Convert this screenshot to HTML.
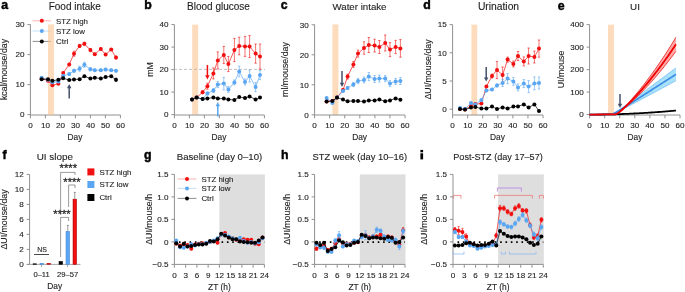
<!DOCTYPE html><html><head><meta charset="utf-8"><style>html,body{margin:0;padding:0;background:#fff;width:685px;height:292px;overflow:hidden}text{font-family:'Liberation Sans', sans-serif}</style></head><body><svg width="685" height="292" viewBox="0 0 685 292" style="display:block;will-change:transform;font-family:'Liberation Sans', sans-serif"><text x="1.2" y="9.4" font-size="12.3" font-weight="bold" fill="#000" stroke="#000" stroke-width="0.45">a</text>
<text x="144.2" y="9.2" font-size="12.3" font-weight="bold" fill="#000" stroke="#000" stroke-width="0.45">b</text>
<text x="280.8" y="9.4" font-size="12.3" font-weight="bold" fill="#000" stroke="#000" stroke-width="0.45">c</text>
<text x="423.2" y="9.2" font-size="12.3" font-weight="bold" fill="#000" stroke="#000" stroke-width="0.45">d</text>
<text x="557.8" y="9.6" font-size="12.3" font-weight="bold" fill="#000" stroke="#000" stroke-width="0.45">e</text>
<text x="2.4" y="159.3" font-size="12.3" font-weight="bold" fill="#000" stroke="#000" stroke-width="0.45">f</text>
<text x="144" y="158.8" font-size="12.3" font-weight="bold" fill="#000" stroke="#000" stroke-width="0.45">g</text>
<text x="281" y="159.3" font-size="12.3" font-weight="bold" fill="#000" stroke="#000" stroke-width="0.45">h</text>
<text x="74.8" y="10.2" font-size="10.0" text-anchor="middle" font-weight="normal" fill="#1e1e1e" stroke="#1e1e1e" stroke-width="0.12">Food intake</text>
<text x="218.5" y="10.2" font-size="10.0" text-anchor="middle" font-weight="normal" fill="#1e1e1e" stroke="#1e1e1e" stroke-width="0.12">Blood glucose</text>
<text x="359.5" y="10.2" font-size="9.7" text-anchor="middle" font-weight="normal" fill="#1e1e1e" stroke="#1e1e1e" stroke-width="0.12">Water intake</text>
<text x="498.5" y="10.2" font-size="10.3" text-anchor="middle" font-weight="normal" fill="#1e1e1e" stroke="#1e1e1e" stroke-width="0.12">Urination</text>
<text x="635" y="10.2" font-size="9.8" text-anchor="middle" font-weight="normal" fill="#1e1e1e" stroke="#1e1e1e" stroke-width="0.12">UI</text>
<text x="54.8" y="160" font-size="9.9" text-anchor="middle" font-weight="normal" fill="#1e1e1e" stroke="#1e1e1e" stroke-width="0.12">UI slope</text>
<text x="219.5" y="160" font-size="9.6" text-anchor="middle" font-weight="normal" fill="#1e1e1e" stroke="#1e1e1e" stroke-width="0.12">Baseline (day 0–10)</text>
<text x="359.8" y="160" font-size="9.35" text-anchor="middle" font-weight="normal" fill="#1e1e1e" stroke="#1e1e1e" stroke-width="0.12">STZ week (day 10–16)</text>
<text x="498" y="160" font-size="9.1" text-anchor="middle" font-weight="normal" fill="#1e1e1e" stroke="#1e1e1e" stroke-width="0.12">Post-STZ (day 17–57)</text>
<rect x="420.4" y="153.3" width="2.7" height="6.1" fill="#000"/>
<rect x="420.4" y="149.9" width="2.7" height="2.4" fill="#000"/>
<line x1="30.4" y1="24.4" x2="30.4" y2="115" stroke="#909090" stroke-width="1.0"/>
<line x1="27.4" y1="114.6" x2="30.4" y2="114.6" stroke="#909090" stroke-width="1.0"/>
<text x="24.5" y="117.4" font-size="8.1" text-anchor="end" font-weight="normal" fill="#1e1e1e" stroke="#1e1e1e" stroke-width="0.12">0</text>
<line x1="27.4" y1="84.6" x2="30.4" y2="84.6" stroke="#909090" stroke-width="1.0"/>
<text x="24.5" y="87.4" font-size="8.1" text-anchor="end" font-weight="normal" fill="#1e1e1e" stroke="#1e1e1e" stroke-width="0.12">10</text>
<line x1="27.4" y1="54.6" x2="30.4" y2="54.6" stroke="#909090" stroke-width="1.0"/>
<text x="24.5" y="57.4" font-size="8.1" text-anchor="end" font-weight="normal" fill="#1e1e1e" stroke="#1e1e1e" stroke-width="0.12">20</text>
<line x1="27.4" y1="24.6" x2="30.4" y2="24.6" stroke="#909090" stroke-width="1.0"/>
<text x="24.5" y="27.4" font-size="8.1" text-anchor="end" font-weight="normal" fill="#1e1e1e" stroke="#1e1e1e" stroke-width="0.12">30</text>
<line x1="30.4" y1="115" x2="120.4" y2="115" stroke="#909090" stroke-width="1.0"/>
<line x1="30.4" y1="115" x2="30.4" y2="118.3" stroke="#909090" stroke-width="1.0"/>
<text x="30.4" y="128" font-size="8.1" text-anchor="middle" font-weight="normal" fill="#1e1e1e" stroke="#1e1e1e" stroke-width="0.12">0</text>
<line x1="45.4" y1="115" x2="45.4" y2="118.3" stroke="#909090" stroke-width="1.0"/>
<text x="45.4" y="128" font-size="8.1" text-anchor="middle" font-weight="normal" fill="#1e1e1e" stroke="#1e1e1e" stroke-width="0.12">10</text>
<line x1="60.4" y1="115" x2="60.4" y2="118.3" stroke="#909090" stroke-width="1.0"/>
<text x="60.4" y="128" font-size="8.1" text-anchor="middle" font-weight="normal" fill="#1e1e1e" stroke="#1e1e1e" stroke-width="0.12">20</text>
<line x1="75.4" y1="115" x2="75.4" y2="118.3" stroke="#909090" stroke-width="1.0"/>
<text x="75.4" y="128" font-size="8.1" text-anchor="middle" font-weight="normal" fill="#1e1e1e" stroke="#1e1e1e" stroke-width="0.12">30</text>
<line x1="90.4" y1="115" x2="90.4" y2="118.3" stroke="#909090" stroke-width="1.0"/>
<text x="90.4" y="128" font-size="8.1" text-anchor="middle" font-weight="normal" fill="#1e1e1e" stroke="#1e1e1e" stroke-width="0.12">40</text>
<line x1="105.4" y1="115" x2="105.4" y2="118.3" stroke="#909090" stroke-width="1.0"/>
<text x="105.4" y="128" font-size="8.1" text-anchor="middle" font-weight="normal" fill="#1e1e1e" stroke="#1e1e1e" stroke-width="0.12">50</text>
<line x1="120.4" y1="115" x2="120.4" y2="118.3" stroke="#909090" stroke-width="1.0"/>
<text x="120.4" y="128" font-size="8.1" text-anchor="middle" font-weight="normal" fill="#1e1e1e" stroke="#1e1e1e" stroke-width="0.12">60</text>
<text x="75" y="140.2" font-size="8.4" text-anchor="middle" font-weight="normal" fill="#1e1e1e" stroke="#1e1e1e" stroke-width="0.12">Day</text>
<text x="7.2" y="69.5" font-size="8.8" text-anchor="middle" font-weight="normal" fill="#1e1e1e" stroke="#1e1e1e" stroke-width="0.12" transform="rotate(-90 7.2 69.5)">kcal/mouse/day</text>
<line x1="32.6" y1="20.8" x2="51" y2="20.8" stroke="#f7a0a0" stroke-width="0.8"/>
<circle cx="41.8" cy="20.8" r="2.0" fill="#f01010"/>
<text x="56" y="23.5" font-size="7.9" text-anchor="start" font-weight="normal" fill="#1e1e1e" stroke="#1e1e1e" stroke-width="0.12">STZ high</text>
<line x1="32.6" y1="31" x2="51" y2="31" stroke="#b5d6f7" stroke-width="0.8"/>
<circle cx="41.8" cy="31" r="2.0" fill="#5aa6f2"/>
<text x="56" y="33.7" font-size="7.9" text-anchor="start" font-weight="normal" fill="#1e1e1e" stroke="#1e1e1e" stroke-width="0.12">STZ low</text>
<line x1="32.6" y1="41.4" x2="51" y2="41.4" stroke="#707070" stroke-width="0.8"/>
<circle cx="41.8" cy="41.4" r="2.0" fill="#000000"/>
<text x="56" y="44.1" font-size="7.9" text-anchor="start" font-weight="normal" fill="#1e1e1e" stroke="#1e1e1e" stroke-width="0.12">Ctrl</text>
<rect x="48" y="24.4" width="6" height="90.6" fill="#fbc591" fill-opacity="0.6"/>
<line x1="63.2" y1="71.9" x2="63.2" y2="73.9" stroke="#f01010" stroke-width="0.6"/>
<line x1="62" y1="71.9" x2="64.4" y2="71.9" stroke="#f01010" stroke-width="0.6"/>
<line x1="62" y1="73.9" x2="64.4" y2="73.9" stroke="#f01010" stroke-width="0.6"/>
<line x1="69.2" y1="63.3" x2="69.2" y2="65.7" stroke="#f01010" stroke-width="0.6"/>
<line x1="68" y1="63.3" x2="70.4" y2="63.3" stroke="#f01010" stroke-width="0.6"/>
<line x1="68" y1="65.7" x2="70.4" y2="65.7" stroke="#f01010" stroke-width="0.6"/>
<line x1="74" y1="51.2" x2="74" y2="56.2" stroke="#f01010" stroke-width="0.6"/>
<line x1="72.8" y1="51.2" x2="75.2" y2="51.2" stroke="#f01010" stroke-width="0.6"/>
<line x1="72.8" y1="56.2" x2="75.2" y2="56.2" stroke="#f01010" stroke-width="0.6"/>
<line x1="79.6" y1="44.4" x2="79.6" y2="47.4" stroke="#f01010" stroke-width="0.6"/>
<line x1="78.4" y1="44.4" x2="80.8" y2="44.4" stroke="#f01010" stroke-width="0.6"/>
<line x1="78.4" y1="47.4" x2="80.8" y2="47.4" stroke="#f01010" stroke-width="0.6"/>
<line x1="84.4" y1="42.3" x2="84.4" y2="45.3" stroke="#f01010" stroke-width="0.6"/>
<line x1="83.2" y1="42.3" x2="85.6" y2="42.3" stroke="#f01010" stroke-width="0.6"/>
<line x1="83.2" y1="45.3" x2="85.6" y2="45.3" stroke="#f01010" stroke-width="0.6"/>
<line x1="90.4" y1="48.6" x2="90.4" y2="51.6" stroke="#f01010" stroke-width="0.6"/>
<line x1="89.2" y1="48.6" x2="91.6" y2="48.6" stroke="#f01010" stroke-width="0.6"/>
<line x1="89.2" y1="51.6" x2="91.6" y2="51.6" stroke="#f01010" stroke-width="0.6"/>
<line x1="94.8" y1="53.1" x2="94.8" y2="55.5" stroke="#f01010" stroke-width="0.6"/>
<line x1="93.6" y1="53.1" x2="96" y2="53.1" stroke="#f01010" stroke-width="0.6"/>
<line x1="93.6" y1="55.5" x2="96" y2="55.5" stroke="#f01010" stroke-width="0.6"/>
<line x1="100.8" y1="47.9" x2="100.8" y2="49.9" stroke="#f01010" stroke-width="0.6"/>
<line x1="99.6" y1="47.9" x2="102" y2="47.9" stroke="#f01010" stroke-width="0.6"/>
<line x1="99.6" y1="49.9" x2="102" y2="49.9" stroke="#f01010" stroke-width="0.6"/>
<line x1="105.6" y1="53.6" x2="105.6" y2="55.6" stroke="#f01010" stroke-width="0.6"/>
<line x1="104.4" y1="53.6" x2="106.8" y2="53.6" stroke="#f01010" stroke-width="0.6"/>
<line x1="104.4" y1="55.6" x2="106.8" y2="55.6" stroke="#f01010" stroke-width="0.6"/>
<line x1="111.2" y1="48.5" x2="111.2" y2="50.5" stroke="#f01010" stroke-width="0.6"/>
<line x1="110" y1="48.5" x2="112.4" y2="48.5" stroke="#f01010" stroke-width="0.6"/>
<line x1="110" y1="50.5" x2="112.4" y2="50.5" stroke="#f01010" stroke-width="0.6"/>
<line x1="116" y1="56.1" x2="116" y2="59.1" stroke="#f01010" stroke-width="0.6"/>
<line x1="114.8" y1="56.1" x2="117.2" y2="56.1" stroke="#f01010" stroke-width="0.6"/>
<line x1="114.8" y1="59.1" x2="117.2" y2="59.1" stroke="#f01010" stroke-width="0.6"/>
<polyline points="41.6,78.6 48,80.7 52.4,85.2 58.4,83.7 63.2,72.9 69.2,64.5 74,53.7 79.6,45.9 84.4,43.8 90.4,50.1 94.8,54.3 100.8,48.9 105.6,54.6 111.2,49.5 116,57.6" fill="none" stroke="#f01010" stroke-width="0.7"/>
<circle cx="41.6" cy="78.6" r="2.0" fill="#f01010"/>
<circle cx="48" cy="80.7" r="2.0" fill="#f01010"/>
<circle cx="52.4" cy="85.2" r="2.0" fill="#f01010"/>
<circle cx="58.4" cy="83.7" r="2.0" fill="#f01010"/>
<circle cx="63.2" cy="72.9" r="2.0" fill="#f01010"/>
<circle cx="69.2" cy="64.5" r="2.0" fill="#f01010"/>
<circle cx="74" cy="53.7" r="2.0" fill="#f01010"/>
<circle cx="79.6" cy="45.9" r="2.0" fill="#f01010"/>
<circle cx="84.4" cy="43.8" r="2.0" fill="#f01010"/>
<circle cx="90.4" cy="50.1" r="2.0" fill="#f01010"/>
<circle cx="94.8" cy="54.3" r="2.0" fill="#f01010"/>
<circle cx="100.8" cy="48.9" r="2.0" fill="#f01010"/>
<circle cx="105.6" cy="54.6" r="2.0" fill="#f01010"/>
<circle cx="111.2" cy="49.5" r="2.0" fill="#f01010"/>
<circle cx="116" cy="57.6" r="2.0" fill="#f01010"/>
<line x1="63.2" y1="74.9" x2="63.2" y2="76.9" stroke="#5aa6f2" stroke-width="0.6"/>
<line x1="62" y1="74.9" x2="64.4" y2="74.9" stroke="#5aa6f2" stroke-width="0.6"/>
<line x1="62" y1="76.9" x2="64.4" y2="76.9" stroke="#5aa6f2" stroke-width="0.6"/>
<line x1="69.2" y1="73.1" x2="69.2" y2="75.1" stroke="#5aa6f2" stroke-width="0.6"/>
<line x1="68" y1="73.1" x2="70.4" y2="73.1" stroke="#5aa6f2" stroke-width="0.6"/>
<line x1="68" y1="75.1" x2="70.4" y2="75.1" stroke="#5aa6f2" stroke-width="0.6"/>
<line x1="74" y1="69.3" x2="74" y2="72.3" stroke="#5aa6f2" stroke-width="0.6"/>
<line x1="72.8" y1="69.3" x2="75.2" y2="69.3" stroke="#5aa6f2" stroke-width="0.6"/>
<line x1="72.8" y1="72.3" x2="75.2" y2="72.3" stroke="#5aa6f2" stroke-width="0.6"/>
<line x1="79.6" y1="66.2" x2="79.6" y2="71.2" stroke="#5aa6f2" stroke-width="0.6"/>
<line x1="78.4" y1="66.2" x2="80.8" y2="66.2" stroke="#5aa6f2" stroke-width="0.6"/>
<line x1="78.4" y1="71.2" x2="80.8" y2="71.2" stroke="#5aa6f2" stroke-width="0.6"/>
<line x1="84.4" y1="62.3" x2="84.4" y2="67.3" stroke="#5aa6f2" stroke-width="0.6"/>
<line x1="83.2" y1="62.3" x2="85.6" y2="62.3" stroke="#5aa6f2" stroke-width="0.6"/>
<line x1="83.2" y1="67.3" x2="85.6" y2="67.3" stroke="#5aa6f2" stroke-width="0.6"/>
<line x1="90.4" y1="67.8" x2="90.4" y2="70.8" stroke="#5aa6f2" stroke-width="0.6"/>
<line x1="89.2" y1="67.8" x2="91.6" y2="67.8" stroke="#5aa6f2" stroke-width="0.6"/>
<line x1="89.2" y1="70.8" x2="91.6" y2="70.8" stroke="#5aa6f2" stroke-width="0.6"/>
<line x1="94.8" y1="69" x2="94.8" y2="71.4" stroke="#5aa6f2" stroke-width="0.6"/>
<line x1="93.6" y1="69" x2="96" y2="69" stroke="#5aa6f2" stroke-width="0.6"/>
<line x1="93.6" y1="71.4" x2="96" y2="71.4" stroke="#5aa6f2" stroke-width="0.6"/>
<line x1="100.8" y1="69" x2="100.8" y2="71.4" stroke="#5aa6f2" stroke-width="0.6"/>
<line x1="99.6" y1="69" x2="102" y2="69" stroke="#5aa6f2" stroke-width="0.6"/>
<line x1="99.6" y1="71.4" x2="102" y2="71.4" stroke="#5aa6f2" stroke-width="0.6"/>
<line x1="105.6" y1="68.4" x2="105.6" y2="70.8" stroke="#5aa6f2" stroke-width="0.6"/>
<line x1="104.4" y1="68.4" x2="106.8" y2="68.4" stroke="#5aa6f2" stroke-width="0.6"/>
<line x1="104.4" y1="70.8" x2="106.8" y2="70.8" stroke="#5aa6f2" stroke-width="0.6"/>
<line x1="111.2" y1="69" x2="111.2" y2="71.4" stroke="#5aa6f2" stroke-width="0.6"/>
<line x1="110" y1="69" x2="112.4" y2="69" stroke="#5aa6f2" stroke-width="0.6"/>
<line x1="110" y1="71.4" x2="112.4" y2="71.4" stroke="#5aa6f2" stroke-width="0.6"/>
<line x1="116" y1="69.6" x2="116" y2="72" stroke="#5aa6f2" stroke-width="0.6"/>
<line x1="114.8" y1="69.6" x2="117.2" y2="69.6" stroke="#5aa6f2" stroke-width="0.6"/>
<line x1="114.8" y1="72" x2="117.2" y2="72" stroke="#5aa6f2" stroke-width="0.6"/>
<polyline points="41.6,77.7 48,79.8 52.4,82.2 58.4,81.6 63.2,75.9 69.2,74.1 74,70.8 79.6,68.7 84.4,64.8 90.4,69.3 94.8,70.2 100.8,70.2 105.6,69.6 111.2,70.2 116,70.8" fill="none" stroke="#5aa6f2" stroke-width="0.7"/>
<circle cx="41.6" cy="77.7" r="2.0" fill="#5aa6f2"/>
<circle cx="48" cy="79.8" r="2.0" fill="#5aa6f2"/>
<circle cx="52.4" cy="82.2" r="2.0" fill="#5aa6f2"/>
<circle cx="58.4" cy="81.6" r="2.0" fill="#5aa6f2"/>
<circle cx="63.2" cy="75.9" r="2.0" fill="#5aa6f2"/>
<circle cx="69.2" cy="74.1" r="2.0" fill="#5aa6f2"/>
<circle cx="74" cy="70.8" r="2.0" fill="#5aa6f2"/>
<circle cx="79.6" cy="68.7" r="2.0" fill="#5aa6f2"/>
<circle cx="84.4" cy="64.8" r="2.0" fill="#5aa6f2"/>
<circle cx="90.4" cy="69.3" r="2.0" fill="#5aa6f2"/>
<circle cx="94.8" cy="70.2" r="2.0" fill="#5aa6f2"/>
<circle cx="100.8" cy="70.2" r="2.0" fill="#5aa6f2"/>
<circle cx="105.6" cy="69.6" r="2.0" fill="#5aa6f2"/>
<circle cx="111.2" cy="70.2" r="2.0" fill="#5aa6f2"/>
<circle cx="116" cy="70.8" r="2.0" fill="#5aa6f2"/>
<line x1="116" y1="78" x2="116" y2="81.6" stroke="#555" stroke-width="0.6"/>
<line x1="114.8" y1="78" x2="117.2" y2="78" stroke="#555" stroke-width="0.6"/>
<line x1="114.8" y1="81.6" x2="117.2" y2="81.6" stroke="#555" stroke-width="0.6"/>
<polyline points="41.6,79.2 48,79.2 52.4,80.7 58.4,79.8 63.2,78.3 69.2,80.1 74,79.5 79.6,79.2 84.4,76.2 90.4,78.6 94.8,77.7 100.8,78.6 105.6,77.1 111.2,76.2 116,79.8" fill="none" stroke="#000000" stroke-width="0.7"/>
<circle cx="41.6" cy="79.2" r="2.0" fill="#000000"/>
<circle cx="48" cy="79.2" r="2.0" fill="#000000"/>
<circle cx="52.4" cy="80.7" r="2.0" fill="#000000"/>
<circle cx="58.4" cy="79.8" r="2.0" fill="#000000"/>
<circle cx="63.2" cy="78.3" r="2.0" fill="#000000"/>
<circle cx="69.2" cy="80.1" r="2.0" fill="#000000"/>
<circle cx="74" cy="79.5" r="2.0" fill="#000000"/>
<circle cx="79.6" cy="79.2" r="2.0" fill="#000000"/>
<circle cx="84.4" cy="76.2" r="2.0" fill="#000000"/>
<circle cx="90.4" cy="78.6" r="2.0" fill="#000000"/>
<circle cx="94.8" cy="77.7" r="2.0" fill="#000000"/>
<circle cx="100.8" cy="78.6" r="2.0" fill="#000000"/>
<circle cx="105.6" cy="77.1" r="2.0" fill="#000000"/>
<circle cx="111.2" cy="76.2" r="2.0" fill="#000000"/>
<circle cx="116" cy="79.8" r="2.0" fill="#000000"/>
<line x1="69.2" y1="98.5" x2="69.2" y2="87.36" stroke="#44506a" stroke-width="1.5"/>
<path d="M67,88.2 L69.2,84 L71.4,88.2 Z" fill="#44506a" stroke="none" stroke-width="0.7"/>
<line x1="174.4" y1="24.6" x2="174.4" y2="115" stroke="#909090" stroke-width="1.0"/>
<line x1="171.4" y1="114.6" x2="174.4" y2="114.6" stroke="#909090" stroke-width="1.0"/>
<text x="168.5" y="117.4" font-size="8.1" text-anchor="end" font-weight="normal" fill="#1e1e1e" stroke="#1e1e1e" stroke-width="0.12">0</text>
<line x1="171.4" y1="92.1" x2="174.4" y2="92.1" stroke="#909090" stroke-width="1.0"/>
<text x="168.5" y="94.9" font-size="8.1" text-anchor="end" font-weight="normal" fill="#1e1e1e" stroke="#1e1e1e" stroke-width="0.12">10</text>
<line x1="171.4" y1="69.6" x2="174.4" y2="69.6" stroke="#909090" stroke-width="1.0"/>
<text x="168.5" y="72.4" font-size="8.1" text-anchor="end" font-weight="normal" fill="#1e1e1e" stroke="#1e1e1e" stroke-width="0.12">20</text>
<line x1="171.4" y1="47.1" x2="174.4" y2="47.1" stroke="#909090" stroke-width="1.0"/>
<text x="168.5" y="49.9" font-size="8.1" text-anchor="end" font-weight="normal" fill="#1e1e1e" stroke="#1e1e1e" stroke-width="0.12">30</text>
<line x1="171.4" y1="24.6" x2="174.4" y2="24.6" stroke="#909090" stroke-width="1.0"/>
<text x="168.5" y="27.4" font-size="8.1" text-anchor="end" font-weight="normal" fill="#1e1e1e" stroke="#1e1e1e" stroke-width="0.12">40</text>
<rect x="192.2" y="24.6" width="6" height="90" fill="#fcdcbd"/>
<line x1="174.4" y1="115" x2="264.2" y2="115" stroke="#909090" stroke-width="1.0"/>
<line x1="174.4" y1="115" x2="174.4" y2="118.3" stroke="#909090" stroke-width="1.0"/>
<text x="174.4" y="128" font-size="8.1" text-anchor="middle" font-weight="normal" fill="#1e1e1e" stroke="#1e1e1e" stroke-width="0.12">0</text>
<line x1="189.4" y1="115" x2="189.4" y2="118.3" stroke="#909090" stroke-width="1.0"/>
<text x="189.4" y="128" font-size="8.1" text-anchor="middle" font-weight="normal" fill="#1e1e1e" stroke="#1e1e1e" stroke-width="0.12">10</text>
<line x1="204.4" y1="115" x2="204.4" y2="118.3" stroke="#909090" stroke-width="1.0"/>
<text x="204.4" y="128" font-size="8.1" text-anchor="middle" font-weight="normal" fill="#1e1e1e" stroke="#1e1e1e" stroke-width="0.12">20</text>
<line x1="219.4" y1="115" x2="219.4" y2="118.3" stroke="#909090" stroke-width="1.0"/>
<text x="219.4" y="128" font-size="8.1" text-anchor="middle" font-weight="normal" fill="#1e1e1e" stroke="#1e1e1e" stroke-width="0.12">30</text>
<line x1="234.4" y1="115" x2="234.4" y2="118.3" stroke="#909090" stroke-width="1.0"/>
<text x="234.4" y="128" font-size="8.1" text-anchor="middle" font-weight="normal" fill="#1e1e1e" stroke="#1e1e1e" stroke-width="0.12">40</text>
<line x1="249.4" y1="115" x2="249.4" y2="118.3" stroke="#909090" stroke-width="1.0"/>
<text x="249.4" y="128" font-size="8.1" text-anchor="middle" font-weight="normal" fill="#1e1e1e" stroke="#1e1e1e" stroke-width="0.12">50</text>
<line x1="264.4" y1="115" x2="264.4" y2="118.3" stroke="#909090" stroke-width="1.0"/>
<text x="264.4" y="128" font-size="8.1" text-anchor="middle" font-weight="normal" fill="#1e1e1e" stroke="#1e1e1e" stroke-width="0.12">60</text>
<text x="219" y="140.2" font-size="8.4" text-anchor="middle" font-weight="normal" fill="#1e1e1e" stroke="#1e1e1e" stroke-width="0.12">Day</text>
<text x="152.5" y="69.5" font-size="8.8" text-anchor="middle" font-weight="normal" fill="#1e1e1e" stroke="#1e1e1e" stroke-width="0.12" transform="rotate(-90 152.5 69.5)">mM</text>
<line x1="174" y1="69.4" x2="265" y2="69.4" stroke="#b0b0b0" stroke-width="0.8" stroke-dasharray="3 2"/>
<line x1="202.6" y1="90.7" x2="202.6" y2="93.7" stroke="#f01010" stroke-width="0.6"/>
<line x1="201.4" y1="90.7" x2="203.8" y2="90.7" stroke="#f01010" stroke-width="0.6"/>
<line x1="201.4" y1="93.7" x2="203.8" y2="93.7" stroke="#f01010" stroke-width="0.6"/>
<line x1="207.4" y1="83.2" x2="207.4" y2="89.2" stroke="#f01010" stroke-width="0.6"/>
<line x1="206.2" y1="83.2" x2="208.6" y2="83.2" stroke="#f01010" stroke-width="0.6"/>
<line x1="206.2" y1="89.2" x2="208.6" y2="89.2" stroke="#f01010" stroke-width="0.6"/>
<line x1="213.4" y1="67.9" x2="213.4" y2="78.9" stroke="#f01010" stroke-width="0.6"/>
<line x1="212.2" y1="67.9" x2="214.6" y2="67.9" stroke="#f01010" stroke-width="0.6"/>
<line x1="212.2" y1="78.9" x2="214.6" y2="78.9" stroke="#f01010" stroke-width="0.6"/>
<line x1="217.8" y1="51.9" x2="217.8" y2="68.9" stroke="#f01010" stroke-width="0.6"/>
<line x1="216.6" y1="51.9" x2="219" y2="51.9" stroke="#f01010" stroke-width="0.6"/>
<line x1="216.6" y1="68.9" x2="219" y2="68.9" stroke="#f01010" stroke-width="0.6"/>
<line x1="223.8" y1="46.4" x2="223.8" y2="63.6" stroke="#f01010" stroke-width="0.6"/>
<line x1="222.6" y1="46.4" x2="225" y2="46.4" stroke="#f01010" stroke-width="0.6"/>
<line x1="222.6" y1="63.6" x2="225" y2="63.6" stroke="#f01010" stroke-width="0.6"/>
<line x1="228.4" y1="56.4" x2="228.4" y2="71.6" stroke="#f01010" stroke-width="0.6"/>
<line x1="227.2" y1="56.4" x2="229.6" y2="56.4" stroke="#f01010" stroke-width="0.6"/>
<line x1="227.2" y1="71.6" x2="229.6" y2="71.6" stroke="#f01010" stroke-width="0.6"/>
<line x1="234.4" y1="38.4" x2="234.4" y2="61.6" stroke="#f01010" stroke-width="0.6"/>
<line x1="233.2" y1="38.4" x2="235.6" y2="38.4" stroke="#f01010" stroke-width="0.6"/>
<line x1="233.2" y1="61.6" x2="235.6" y2="61.6" stroke="#f01010" stroke-width="0.6"/>
<line x1="239.2" y1="37.2" x2="239.2" y2="54.8" stroke="#f01010" stroke-width="0.6"/>
<line x1="238" y1="37.2" x2="240.4" y2="37.2" stroke="#f01010" stroke-width="0.6"/>
<line x1="238" y1="54.8" x2="240.4" y2="54.8" stroke="#f01010" stroke-width="0.6"/>
<line x1="245" y1="36.4" x2="245" y2="56.4" stroke="#f01010" stroke-width="0.6"/>
<line x1="243.8" y1="36.4" x2="246.2" y2="36.4" stroke="#f01010" stroke-width="0.6"/>
<line x1="243.8" y1="56.4" x2="246.2" y2="56.4" stroke="#f01010" stroke-width="0.6"/>
<line x1="249.6" y1="35.6" x2="249.6" y2="57.6" stroke="#f01010" stroke-width="0.6"/>
<line x1="248.4" y1="35.6" x2="250.8" y2="35.6" stroke="#f01010" stroke-width="0.6"/>
<line x1="248.4" y1="57.6" x2="250.8" y2="57.6" stroke="#f01010" stroke-width="0.6"/>
<line x1="255.6" y1="44" x2="255.6" y2="63.2" stroke="#f01010" stroke-width="0.6"/>
<line x1="254.4" y1="44" x2="256.8" y2="44" stroke="#f01010" stroke-width="0.6"/>
<line x1="254.4" y1="63.2" x2="256.8" y2="63.2" stroke="#f01010" stroke-width="0.6"/>
<line x1="260" y1="44" x2="260" y2="69.2" stroke="#f01010" stroke-width="0.6"/>
<line x1="258.8" y1="44" x2="261.2" y2="44" stroke="#f01010" stroke-width="0.6"/>
<line x1="258.8" y1="69.2" x2="261.2" y2="69.2" stroke="#f01010" stroke-width="0.6"/>
<polyline points="192,99.6 196.6,97.6 202.6,92.2 207.4,86.2 213.4,73.4 217.8,60.4 223.8,55 228.4,64 234.4,50 239.2,46 245,46.4 249.6,46.6 255.6,53.6 260,56.6" fill="none" stroke="#f01010" stroke-width="0.7"/>
<circle cx="192" cy="99.6" r="2.0" fill="#f01010"/>
<circle cx="196.6" cy="97.6" r="2.0" fill="#f01010"/>
<circle cx="202.6" cy="92.2" r="2.0" fill="#f01010"/>
<circle cx="207.4" cy="86.2" r="2.0" fill="#f01010"/>
<circle cx="213.4" cy="73.4" r="2.0" fill="#f01010"/>
<circle cx="217.8" cy="60.4" r="2.0" fill="#f01010"/>
<circle cx="223.8" cy="55" r="2.0" fill="#f01010"/>
<circle cx="228.4" cy="64" r="2.0" fill="#f01010"/>
<circle cx="234.4" cy="50" r="2.0" fill="#f01010"/>
<circle cx="239.2" cy="46" r="2.0" fill="#f01010"/>
<circle cx="245" cy="46.4" r="2.0" fill="#f01010"/>
<circle cx="249.6" cy="46.6" r="2.0" fill="#f01010"/>
<circle cx="255.6" cy="53.6" r="2.0" fill="#f01010"/>
<circle cx="260" cy="56.6" r="2.0" fill="#f01010"/>
<line x1="207.4" y1="91.9" x2="207.4" y2="94.9" stroke="#5aa6f2" stroke-width="0.6"/>
<line x1="206.2" y1="91.9" x2="208.6" y2="91.9" stroke="#5aa6f2" stroke-width="0.6"/>
<line x1="206.2" y1="94.9" x2="208.6" y2="94.9" stroke="#5aa6f2" stroke-width="0.6"/>
<line x1="213.4" y1="88.6" x2="213.4" y2="92.6" stroke="#5aa6f2" stroke-width="0.6"/>
<line x1="212.2" y1="88.6" x2="214.6" y2="88.6" stroke="#5aa6f2" stroke-width="0.6"/>
<line x1="212.2" y1="92.6" x2="214.6" y2="92.6" stroke="#5aa6f2" stroke-width="0.6"/>
<line x1="217.8" y1="81.6" x2="217.8" y2="87.6" stroke="#5aa6f2" stroke-width="0.6"/>
<line x1="216.6" y1="81.6" x2="219" y2="81.6" stroke="#5aa6f2" stroke-width="0.6"/>
<line x1="216.6" y1="87.6" x2="219" y2="87.6" stroke="#5aa6f2" stroke-width="0.6"/>
<line x1="223.8" y1="77.4" x2="223.8" y2="89.8" stroke="#5aa6f2" stroke-width="0.6"/>
<line x1="222.6" y1="77.4" x2="225" y2="77.4" stroke="#5aa6f2" stroke-width="0.6"/>
<line x1="222.6" y1="89.8" x2="225" y2="89.8" stroke="#5aa6f2" stroke-width="0.6"/>
<line x1="228.4" y1="86.6" x2="228.4" y2="92.2" stroke="#5aa6f2" stroke-width="0.6"/>
<line x1="227.2" y1="86.6" x2="229.6" y2="86.6" stroke="#5aa6f2" stroke-width="0.6"/>
<line x1="227.2" y1="92.2" x2="229.6" y2="92.2" stroke="#5aa6f2" stroke-width="0.6"/>
<line x1="234.4" y1="80" x2="234.4" y2="84.8" stroke="#5aa6f2" stroke-width="0.6"/>
<line x1="233.2" y1="80" x2="235.6" y2="80" stroke="#5aa6f2" stroke-width="0.6"/>
<line x1="233.2" y1="84.8" x2="235.6" y2="84.8" stroke="#5aa6f2" stroke-width="0.6"/>
<line x1="239.2" y1="66" x2="239.2" y2="76.8" stroke="#5aa6f2" stroke-width="0.6"/>
<line x1="238" y1="66" x2="240.4" y2="66" stroke="#5aa6f2" stroke-width="0.6"/>
<line x1="238" y1="76.8" x2="240.4" y2="76.8" stroke="#5aa6f2" stroke-width="0.6"/>
<line x1="245" y1="79" x2="245" y2="85" stroke="#5aa6f2" stroke-width="0.6"/>
<line x1="243.8" y1="79" x2="246.2" y2="79" stroke="#5aa6f2" stroke-width="0.6"/>
<line x1="243.8" y1="85" x2="246.2" y2="85" stroke="#5aa6f2" stroke-width="0.6"/>
<line x1="249.6" y1="70" x2="249.6" y2="82" stroke="#5aa6f2" stroke-width="0.6"/>
<line x1="248.4" y1="70" x2="250.8" y2="70" stroke="#5aa6f2" stroke-width="0.6"/>
<line x1="248.4" y1="82" x2="250.8" y2="82" stroke="#5aa6f2" stroke-width="0.6"/>
<line x1="255.6" y1="82.4" x2="255.6" y2="91.6" stroke="#5aa6f2" stroke-width="0.6"/>
<line x1="254.4" y1="82.4" x2="256.8" y2="82.4" stroke="#5aa6f2" stroke-width="0.6"/>
<line x1="254.4" y1="91.6" x2="256.8" y2="91.6" stroke="#5aa6f2" stroke-width="0.6"/>
<line x1="260" y1="70.6" x2="260" y2="79.4" stroke="#5aa6f2" stroke-width="0.6"/>
<line x1="258.8" y1="70.6" x2="261.2" y2="70.6" stroke="#5aa6f2" stroke-width="0.6"/>
<line x1="258.8" y1="79.4" x2="261.2" y2="79.4" stroke="#5aa6f2" stroke-width="0.6"/>
<polyline points="192,99.6 196.6,97.6 202.6,99 207.4,93.4 213.4,90.6 217.8,84.6 223.8,83.6 228.4,89.4 234.4,82.4 239.2,71.4 245,82 249.6,76 255.6,87 260,75" fill="none" stroke="#5aa6f2" stroke-width="0.7"/>
<circle cx="192" cy="99.6" r="2.0" fill="#5aa6f2"/>
<circle cx="196.6" cy="97.6" r="2.0" fill="#5aa6f2"/>
<circle cx="202.6" cy="99" r="2.0" fill="#5aa6f2"/>
<circle cx="207.4" cy="93.4" r="2.0" fill="#5aa6f2"/>
<circle cx="213.4" cy="90.6" r="2.0" fill="#5aa6f2"/>
<circle cx="217.8" cy="84.6" r="2.0" fill="#5aa6f2"/>
<circle cx="223.8" cy="83.6" r="2.0" fill="#5aa6f2"/>
<circle cx="228.4" cy="89.4" r="2.0" fill="#5aa6f2"/>
<circle cx="234.4" cy="82.4" r="2.0" fill="#5aa6f2"/>
<circle cx="239.2" cy="71.4" r="2.0" fill="#5aa6f2"/>
<circle cx="245" cy="82" r="2.0" fill="#5aa6f2"/>
<circle cx="249.6" cy="76" r="2.0" fill="#5aa6f2"/>
<circle cx="255.6" cy="87" r="2.0" fill="#5aa6f2"/>
<circle cx="260" cy="75" r="2.0" fill="#5aa6f2"/>
<polyline points="192,99.6 196.6,97.6 202.6,99 207.4,98.6 213.4,97.4 217.8,98.6 223.8,98.6 228.4,99.4 234.4,100 239.2,97 245,98 249.6,96.6 255.6,99.4 260,97.6" fill="none" stroke="#000000" stroke-width="0.7"/>
<circle cx="192" cy="99.6" r="2.0" fill="#000000"/>
<circle cx="196.6" cy="97.6" r="2.0" fill="#000000"/>
<circle cx="202.6" cy="99" r="2.0" fill="#000000"/>
<circle cx="207.4" cy="98.6" r="2.0" fill="#000000"/>
<circle cx="213.4" cy="97.4" r="2.0" fill="#000000"/>
<circle cx="217.8" cy="98.6" r="2.0" fill="#000000"/>
<circle cx="223.8" cy="98.6" r="2.0" fill="#000000"/>
<circle cx="228.4" cy="99.4" r="2.0" fill="#000000"/>
<circle cx="234.4" cy="100" r="2.0" fill="#000000"/>
<circle cx="239.2" cy="97" r="2.0" fill="#000000"/>
<circle cx="245" cy="98" r="2.0" fill="#000000"/>
<circle cx="249.6" cy="96.6" r="2.0" fill="#000000"/>
<circle cx="255.6" cy="99.4" r="2.0" fill="#000000"/>
<circle cx="260" cy="97.6" r="2.0" fill="#000000"/>
<line x1="207.4" y1="65" x2="207.4" y2="76.14" stroke="#f01010" stroke-width="1.5"/>
<path d="M205.2,75.3 L207.4,79.5 L209.6,75.3 Z" fill="#f01010" stroke="none" stroke-width="0.7"/>
<line x1="217.8" y1="116.5" x2="217.8" y2="105.36" stroke="#5aa6f2" stroke-width="1.5"/>
<path d="M215.6,106.2 L217.8,102 L220,106.2 Z" fill="#5aa6f2" stroke="none" stroke-width="0.7"/>
<line x1="314.6" y1="24.4" x2="314.6" y2="115" stroke="#909090" stroke-width="1.0"/>
<line x1="311.6" y1="114.8" x2="314.6" y2="114.8" stroke="#909090" stroke-width="1.0"/>
<text x="308.7" y="117.6" font-size="8.1" text-anchor="end" font-weight="normal" fill="#1e1e1e" stroke="#1e1e1e" stroke-width="0.12">0</text>
<line x1="311.6" y1="84.8" x2="314.6" y2="84.8" stroke="#909090" stroke-width="1.0"/>
<text x="308.7" y="87.6" font-size="8.1" text-anchor="end" font-weight="normal" fill="#1e1e1e" stroke="#1e1e1e" stroke-width="0.12">10</text>
<line x1="311.6" y1="54.8" x2="314.6" y2="54.8" stroke="#909090" stroke-width="1.0"/>
<text x="308.7" y="57.6" font-size="8.1" text-anchor="end" font-weight="normal" fill="#1e1e1e" stroke="#1e1e1e" stroke-width="0.12">20</text>
<line x1="311.6" y1="24.8" x2="314.6" y2="24.8" stroke="#909090" stroke-width="1.0"/>
<text x="308.7" y="27.6" font-size="8.1" text-anchor="end" font-weight="normal" fill="#1e1e1e" stroke="#1e1e1e" stroke-width="0.12">30</text>
<rect x="332.4" y="24.4" width="6" height="90.4" fill="#fcdcbd"/>
<line x1="314.6" y1="115" x2="405" y2="115" stroke="#909090" stroke-width="1.0"/>
<line x1="314.6" y1="115" x2="314.6" y2="118.3" stroke="#909090" stroke-width="1.0"/>
<text x="314.6" y="128" font-size="8.1" text-anchor="middle" font-weight="normal" fill="#1e1e1e" stroke="#1e1e1e" stroke-width="0.12">0</text>
<line x1="329.67" y1="115" x2="329.67" y2="118.3" stroke="#909090" stroke-width="1.0"/>
<text x="329.67" y="128" font-size="8.1" text-anchor="middle" font-weight="normal" fill="#1e1e1e" stroke="#1e1e1e" stroke-width="0.12">10</text>
<line x1="344.74" y1="115" x2="344.74" y2="118.3" stroke="#909090" stroke-width="1.0"/>
<text x="344.74" y="128" font-size="8.1" text-anchor="middle" font-weight="normal" fill="#1e1e1e" stroke="#1e1e1e" stroke-width="0.12">20</text>
<line x1="359.81" y1="115" x2="359.81" y2="118.3" stroke="#909090" stroke-width="1.0"/>
<text x="359.81" y="128" font-size="8.1" text-anchor="middle" font-weight="normal" fill="#1e1e1e" stroke="#1e1e1e" stroke-width="0.12">30</text>
<line x1="374.88" y1="115" x2="374.88" y2="118.3" stroke="#909090" stroke-width="1.0"/>
<text x="374.88" y="128" font-size="8.1" text-anchor="middle" font-weight="normal" fill="#1e1e1e" stroke="#1e1e1e" stroke-width="0.12">40</text>
<line x1="389.95" y1="115" x2="389.95" y2="118.3" stroke="#909090" stroke-width="1.0"/>
<text x="389.95" y="128" font-size="8.1" text-anchor="middle" font-weight="normal" fill="#1e1e1e" stroke="#1e1e1e" stroke-width="0.12">50</text>
<line x1="405.02" y1="115" x2="405.02" y2="118.3" stroke="#909090" stroke-width="1.0"/>
<text x="405.02" y="128" font-size="8.1" text-anchor="middle" font-weight="normal" fill="#1e1e1e" stroke="#1e1e1e" stroke-width="0.12">60</text>
<text x="359.6" y="140.2" font-size="8.4" text-anchor="middle" font-weight="normal" fill="#1e1e1e" stroke="#1e1e1e" stroke-width="0.12">Day</text>
<text x="287.5" y="69.5" font-size="8.8" text-anchor="middle" font-weight="normal" fill="#1e1e1e" stroke="#1e1e1e" stroke-width="0.12" transform="rotate(-90 287.5 69.5)">ml/mouse/day</text>
<line x1="343" y1="88.5" x2="343" y2="91.5" stroke="#f01010" stroke-width="0.6"/>
<line x1="341.8" y1="88.5" x2="344.2" y2="88.5" stroke="#f01010" stroke-width="0.6"/>
<line x1="341.8" y1="91.5" x2="344.2" y2="91.5" stroke="#f01010" stroke-width="0.6"/>
<line x1="347.6" y1="74.1" x2="347.6" y2="79.1" stroke="#f01010" stroke-width="0.6"/>
<line x1="346.4" y1="74.1" x2="348.8" y2="74.1" stroke="#f01010" stroke-width="0.6"/>
<line x1="346.4" y1="79.1" x2="348.8" y2="79.1" stroke="#f01010" stroke-width="0.6"/>
<line x1="353.4" y1="61.4" x2="353.4" y2="67.4" stroke="#f01010" stroke-width="0.6"/>
<line x1="352.2" y1="61.4" x2="354.6" y2="61.4" stroke="#f01010" stroke-width="0.6"/>
<line x1="352.2" y1="67.4" x2="354.6" y2="67.4" stroke="#f01010" stroke-width="0.6"/>
<line x1="358" y1="50.1" x2="358" y2="57.1" stroke="#f01010" stroke-width="0.6"/>
<line x1="356.8" y1="50.1" x2="359.2" y2="50.1" stroke="#f01010" stroke-width="0.6"/>
<line x1="356.8" y1="57.1" x2="359.2" y2="57.1" stroke="#f01010" stroke-width="0.6"/>
<line x1="364" y1="41.8" x2="364" y2="54.2" stroke="#f01010" stroke-width="0.6"/>
<line x1="362.8" y1="41.8" x2="365.2" y2="41.8" stroke="#f01010" stroke-width="0.6"/>
<line x1="362.8" y1="54.2" x2="365.2" y2="54.2" stroke="#f01010" stroke-width="0.6"/>
<line x1="368.8" y1="37.5" x2="368.8" y2="52.5" stroke="#f01010" stroke-width="0.6"/>
<line x1="367.6" y1="37.5" x2="370" y2="37.5" stroke="#f01010" stroke-width="0.6"/>
<line x1="367.6" y1="52.5" x2="370" y2="52.5" stroke="#f01010" stroke-width="0.6"/>
<line x1="374.6" y1="39.2" x2="374.6" y2="52" stroke="#f01010" stroke-width="0.6"/>
<line x1="373.4" y1="39.2" x2="375.8" y2="39.2" stroke="#f01010" stroke-width="0.6"/>
<line x1="373.4" y1="52" x2="375.8" y2="52" stroke="#f01010" stroke-width="0.6"/>
<line x1="379.4" y1="40.5" x2="379.4" y2="53.5" stroke="#f01010" stroke-width="0.6"/>
<line x1="378.2" y1="40.5" x2="380.6" y2="40.5" stroke="#f01010" stroke-width="0.6"/>
<line x1="378.2" y1="53.5" x2="380.6" y2="53.5" stroke="#f01010" stroke-width="0.6"/>
<line x1="385.2" y1="35" x2="385.2" y2="51" stroke="#f01010" stroke-width="0.6"/>
<line x1="384" y1="35" x2="386.4" y2="35" stroke="#f01010" stroke-width="0.6"/>
<line x1="384" y1="51" x2="386.4" y2="51" stroke="#f01010" stroke-width="0.6"/>
<line x1="390" y1="42.6" x2="390" y2="56.6" stroke="#f01010" stroke-width="0.6"/>
<line x1="388.8" y1="42.6" x2="391.2" y2="42.6" stroke="#f01010" stroke-width="0.6"/>
<line x1="388.8" y1="56.6" x2="391.2" y2="56.6" stroke="#f01010" stroke-width="0.6"/>
<line x1="395.6" y1="40.4" x2="395.6" y2="53.6" stroke="#f01010" stroke-width="0.6"/>
<line x1="394.4" y1="40.4" x2="396.8" y2="40.4" stroke="#f01010" stroke-width="0.6"/>
<line x1="394.4" y1="53.6" x2="396.8" y2="53.6" stroke="#f01010" stroke-width="0.6"/>
<line x1="400.4" y1="39.6" x2="400.4" y2="57.2" stroke="#f01010" stroke-width="0.6"/>
<line x1="399.2" y1="39.6" x2="401.6" y2="39.6" stroke="#f01010" stroke-width="0.6"/>
<line x1="399.2" y1="57.2" x2="401.6" y2="57.2" stroke="#f01010" stroke-width="0.6"/>
<polyline points="326.6,101.6 332.4,101 337,97.6 343,90 347.6,76.6 353.4,64.4 358,53.6 364,48 368.8,45 374.6,45.6 379.4,47 385.2,43 390,49.6 395.6,47 400.4,48.4" fill="none" stroke="#f01010" stroke-width="0.7"/>
<circle cx="326.6" cy="101.6" r="2.0" fill="#f01010"/>
<circle cx="332.4" cy="101" r="2.0" fill="#f01010"/>
<circle cx="337" cy="97.6" r="2.0" fill="#f01010"/>
<circle cx="343" cy="90" r="2.0" fill="#f01010"/>
<circle cx="347.6" cy="76.6" r="2.0" fill="#f01010"/>
<circle cx="353.4" cy="64.4" r="2.0" fill="#f01010"/>
<circle cx="358" cy="53.6" r="2.0" fill="#f01010"/>
<circle cx="364" cy="48" r="2.0" fill="#f01010"/>
<circle cx="368.8" cy="45" r="2.0" fill="#f01010"/>
<circle cx="374.6" cy="45.6" r="2.0" fill="#f01010"/>
<circle cx="379.4" cy="47" r="2.0" fill="#f01010"/>
<circle cx="385.2" cy="43" r="2.0" fill="#f01010"/>
<circle cx="390" cy="49.6" r="2.0" fill="#f01010"/>
<circle cx="395.6" cy="47" r="2.0" fill="#f01010"/>
<circle cx="400.4" cy="48.4" r="2.0" fill="#f01010"/>
<line x1="343" y1="90" x2="343" y2="92" stroke="#5aa6f2" stroke-width="0.6"/>
<line x1="341.8" y1="90" x2="344.2" y2="90" stroke="#5aa6f2" stroke-width="0.6"/>
<line x1="341.8" y1="92" x2="344.2" y2="92" stroke="#5aa6f2" stroke-width="0.6"/>
<line x1="347.6" y1="86.5" x2="347.6" y2="89.5" stroke="#5aa6f2" stroke-width="0.6"/>
<line x1="346.4" y1="86.5" x2="348.8" y2="86.5" stroke="#5aa6f2" stroke-width="0.6"/>
<line x1="346.4" y1="89.5" x2="348.8" y2="89.5" stroke="#5aa6f2" stroke-width="0.6"/>
<line x1="353.4" y1="82.4" x2="353.4" y2="86.4" stroke="#5aa6f2" stroke-width="0.6"/>
<line x1="352.2" y1="82.4" x2="354.6" y2="82.4" stroke="#5aa6f2" stroke-width="0.6"/>
<line x1="352.2" y1="86.4" x2="354.6" y2="86.4" stroke="#5aa6f2" stroke-width="0.6"/>
<line x1="358" y1="78.5" x2="358" y2="83.5" stroke="#5aa6f2" stroke-width="0.6"/>
<line x1="356.8" y1="78.5" x2="359.2" y2="78.5" stroke="#5aa6f2" stroke-width="0.6"/>
<line x1="356.8" y1="83.5" x2="359.2" y2="83.5" stroke="#5aa6f2" stroke-width="0.6"/>
<line x1="364" y1="77" x2="364" y2="83" stroke="#5aa6f2" stroke-width="0.6"/>
<line x1="362.8" y1="77" x2="365.2" y2="77" stroke="#5aa6f2" stroke-width="0.6"/>
<line x1="362.8" y1="83" x2="365.2" y2="83" stroke="#5aa6f2" stroke-width="0.6"/>
<line x1="368.8" y1="72.6" x2="368.8" y2="80.6" stroke="#5aa6f2" stroke-width="0.6"/>
<line x1="367.6" y1="72.6" x2="370" y2="72.6" stroke="#5aa6f2" stroke-width="0.6"/>
<line x1="367.6" y1="80.6" x2="370" y2="80.6" stroke="#5aa6f2" stroke-width="0.6"/>
<line x1="374.6" y1="75.5" x2="374.6" y2="82.5" stroke="#5aa6f2" stroke-width="0.6"/>
<line x1="373.4" y1="75.5" x2="375.8" y2="75.5" stroke="#5aa6f2" stroke-width="0.6"/>
<line x1="373.4" y1="82.5" x2="375.8" y2="82.5" stroke="#5aa6f2" stroke-width="0.6"/>
<line x1="379.4" y1="75.1" x2="379.4" y2="82.1" stroke="#5aa6f2" stroke-width="0.6"/>
<line x1="378.2" y1="75.1" x2="380.6" y2="75.1" stroke="#5aa6f2" stroke-width="0.6"/>
<line x1="378.2" y1="82.1" x2="380.6" y2="82.1" stroke="#5aa6f2" stroke-width="0.6"/>
<line x1="385.2" y1="75.6" x2="385.2" y2="81.6" stroke="#5aa6f2" stroke-width="0.6"/>
<line x1="384" y1="75.6" x2="386.4" y2="75.6" stroke="#5aa6f2" stroke-width="0.6"/>
<line x1="384" y1="81.6" x2="386.4" y2="81.6" stroke="#5aa6f2" stroke-width="0.6"/>
<line x1="390" y1="80.6" x2="390" y2="86.6" stroke="#5aa6f2" stroke-width="0.6"/>
<line x1="388.8" y1="80.6" x2="391.2" y2="80.6" stroke="#5aa6f2" stroke-width="0.6"/>
<line x1="388.8" y1="86.6" x2="391.2" y2="86.6" stroke="#5aa6f2" stroke-width="0.6"/>
<line x1="395.6" y1="78.4" x2="395.6" y2="84.4" stroke="#5aa6f2" stroke-width="0.6"/>
<line x1="394.4" y1="78.4" x2="396.8" y2="78.4" stroke="#5aa6f2" stroke-width="0.6"/>
<line x1="394.4" y1="84.4" x2="396.8" y2="84.4" stroke="#5aa6f2" stroke-width="0.6"/>
<line x1="400.4" y1="77.5" x2="400.4" y2="84.5" stroke="#5aa6f2" stroke-width="0.6"/>
<line x1="399.2" y1="77.5" x2="401.6" y2="77.5" stroke="#5aa6f2" stroke-width="0.6"/>
<line x1="399.2" y1="84.5" x2="401.6" y2="84.5" stroke="#5aa6f2" stroke-width="0.6"/>
<polyline points="326.6,98 332.4,103 337,97.6 343,91 347.6,88 353.4,84.4 358,81 364,80 368.8,76.6 374.6,79 379.4,78.6 385.2,78.6 390,83.6 395.6,81.4 400.4,81" fill="none" stroke="#5aa6f2" stroke-width="0.7"/>
<circle cx="326.6" cy="98" r="2.0" fill="#5aa6f2"/>
<circle cx="332.4" cy="103" r="2.0" fill="#5aa6f2"/>
<circle cx="337" cy="97.6" r="2.0" fill="#5aa6f2"/>
<circle cx="343" cy="91" r="2.0" fill="#5aa6f2"/>
<circle cx="347.6" cy="88" r="2.0" fill="#5aa6f2"/>
<circle cx="353.4" cy="84.4" r="2.0" fill="#5aa6f2"/>
<circle cx="358" cy="81" r="2.0" fill="#5aa6f2"/>
<circle cx="364" cy="80" r="2.0" fill="#5aa6f2"/>
<circle cx="368.8" cy="76.6" r="2.0" fill="#5aa6f2"/>
<circle cx="374.6" cy="79" r="2.0" fill="#5aa6f2"/>
<circle cx="379.4" cy="78.6" r="2.0" fill="#5aa6f2"/>
<circle cx="385.2" cy="78.6" r="2.0" fill="#5aa6f2"/>
<circle cx="390" cy="83.6" r="2.0" fill="#5aa6f2"/>
<circle cx="395.6" cy="81.4" r="2.0" fill="#5aa6f2"/>
<circle cx="400.4" cy="81" r="2.0" fill="#5aa6f2"/>
<polyline points="326.6,101.6 332.4,101 337,97.6 343,99.6 347.6,101.2 353.4,101 358,101 364,101.6 368.8,100.4 374.6,100.4 379.4,99.6 385.2,101.2 390,100.4 395.6,98.4 400.4,99.8" fill="none" stroke="#000000" stroke-width="0.7"/>
<circle cx="326.6" cy="101.6" r="2.0" fill="#000000"/>
<circle cx="332.4" cy="101" r="2.0" fill="#000000"/>
<circle cx="337" cy="97.6" r="2.0" fill="#000000"/>
<circle cx="343" cy="99.6" r="2.0" fill="#000000"/>
<circle cx="347.6" cy="101.2" r="2.0" fill="#000000"/>
<circle cx="353.4" cy="101" r="2.0" fill="#000000"/>
<circle cx="358" cy="101" r="2.0" fill="#000000"/>
<circle cx="364" cy="101.6" r="2.0" fill="#000000"/>
<circle cx="368.8" cy="100.4" r="2.0" fill="#000000"/>
<circle cx="374.6" cy="100.4" r="2.0" fill="#000000"/>
<circle cx="379.4" cy="99.6" r="2.0" fill="#000000"/>
<circle cx="385.2" cy="101.2" r="2.0" fill="#000000"/>
<circle cx="390" cy="100.4" r="2.0" fill="#000000"/>
<circle cx="395.6" cy="98.4" r="2.0" fill="#000000"/>
<circle cx="400.4" cy="99.8" r="2.0" fill="#000000"/>
<line x1="342" y1="71" x2="342" y2="83.64" stroke="#44506a" stroke-width="1.5"/>
<path d="M339.8,82.8 L342,87 L344.2,82.8 Z" fill="#44506a" stroke="none" stroke-width="0.7"/>
<line x1="452.6" y1="24.6" x2="452.6" y2="115" stroke="#909090" stroke-width="1.0"/>
<line x1="449.6" y1="109.2" x2="452.6" y2="109.2" stroke="#909090" stroke-width="1.0"/>
<text x="446.7" y="112" font-size="8.1" text-anchor="end" font-weight="normal" fill="#1e1e1e" stroke="#1e1e1e" stroke-width="0.12">0</text>
<line x1="449.6" y1="81" x2="452.6" y2="81" stroke="#909090" stroke-width="1.0"/>
<text x="446.7" y="83.8" font-size="8.1" text-anchor="end" font-weight="normal" fill="#1e1e1e" stroke="#1e1e1e" stroke-width="0.12">5</text>
<line x1="449.6" y1="52.8" x2="452.6" y2="52.8" stroke="#909090" stroke-width="1.0"/>
<text x="446.7" y="55.6" font-size="8.1" text-anchor="end" font-weight="normal" fill="#1e1e1e" stroke="#1e1e1e" stroke-width="0.12">10</text>
<line x1="449.6" y1="24.6" x2="452.6" y2="24.6" stroke="#909090" stroke-width="1.0"/>
<text x="446.7" y="27.4" font-size="8.1" text-anchor="end" font-weight="normal" fill="#1e1e1e" stroke="#1e1e1e" stroke-width="0.12">15</text>
<rect x="471.4" y="24.6" width="5.8" height="90.2" fill="#fcdcbd"/>
<line x1="452.6" y1="115" x2="543" y2="115" stroke="#909090" stroke-width="1.0"/>
<line x1="452.6" y1="115" x2="452.6" y2="118.3" stroke="#909090" stroke-width="1.0"/>
<text x="452.6" y="128" font-size="8.1" text-anchor="middle" font-weight="normal" fill="#1e1e1e" stroke="#1e1e1e" stroke-width="0.12">0</text>
<line x1="467.67" y1="115" x2="467.67" y2="118.3" stroke="#909090" stroke-width="1.0"/>
<text x="467.67" y="128" font-size="8.1" text-anchor="middle" font-weight="normal" fill="#1e1e1e" stroke="#1e1e1e" stroke-width="0.12">10</text>
<line x1="482.74" y1="115" x2="482.74" y2="118.3" stroke="#909090" stroke-width="1.0"/>
<text x="482.74" y="128" font-size="8.1" text-anchor="middle" font-weight="normal" fill="#1e1e1e" stroke="#1e1e1e" stroke-width="0.12">20</text>
<line x1="497.81" y1="115" x2="497.81" y2="118.3" stroke="#909090" stroke-width="1.0"/>
<text x="497.81" y="128" font-size="8.1" text-anchor="middle" font-weight="normal" fill="#1e1e1e" stroke="#1e1e1e" stroke-width="0.12">30</text>
<line x1="512.88" y1="115" x2="512.88" y2="118.3" stroke="#909090" stroke-width="1.0"/>
<text x="512.88" y="128" font-size="8.1" text-anchor="middle" font-weight="normal" fill="#1e1e1e" stroke="#1e1e1e" stroke-width="0.12">40</text>
<line x1="527.95" y1="115" x2="527.95" y2="118.3" stroke="#909090" stroke-width="1.0"/>
<text x="527.95" y="128" font-size="8.1" text-anchor="middle" font-weight="normal" fill="#1e1e1e" stroke="#1e1e1e" stroke-width="0.12">50</text>
<line x1="543.02" y1="115" x2="543.02" y2="118.3" stroke="#909090" stroke-width="1.0"/>
<text x="543.02" y="128" font-size="8.1" text-anchor="middle" font-weight="normal" fill="#1e1e1e" stroke="#1e1e1e" stroke-width="0.12">60</text>
<text x="497.5" y="140.2" font-size="8.4" text-anchor="middle" font-weight="normal" fill="#1e1e1e" stroke="#1e1e1e" stroke-width="0.12">Day</text>
<text x="431" y="69.5" font-size="8.8" text-anchor="middle" font-weight="normal" fill="#1e1e1e" stroke="#1e1e1e" stroke-width="0.12" transform="rotate(-90 431 69.5)">ΔUI/mouse/day</text>
<line x1="486.4" y1="85.4" x2="486.4" y2="87.4" stroke="#f01010" stroke-width="0.6"/>
<line x1="485.2" y1="85.4" x2="487.6" y2="85.4" stroke="#f01010" stroke-width="0.6"/>
<line x1="485.2" y1="87.4" x2="487.6" y2="87.4" stroke="#f01010" stroke-width="0.6"/>
<line x1="492" y1="74" x2="492" y2="78" stroke="#f01010" stroke-width="0.6"/>
<line x1="490.8" y1="74" x2="493.2" y2="74" stroke="#f01010" stroke-width="0.6"/>
<line x1="490.8" y1="78" x2="493.2" y2="78" stroke="#f01010" stroke-width="0.6"/>
<line x1="497" y1="61.4" x2="497" y2="78.6" stroke="#f01010" stroke-width="0.6"/>
<line x1="495.8" y1="61.4" x2="498.2" y2="61.4" stroke="#f01010" stroke-width="0.6"/>
<line x1="495.8" y1="78.6" x2="498.2" y2="78.6" stroke="#f01010" stroke-width="0.6"/>
<line x1="502.6" y1="67" x2="502.6" y2="83" stroke="#f01010" stroke-width="0.6"/>
<line x1="501.4" y1="67" x2="503.8" y2="67" stroke="#f01010" stroke-width="0.6"/>
<line x1="501.4" y1="83" x2="503.8" y2="83" stroke="#f01010" stroke-width="0.6"/>
<line x1="507.6" y1="57.1" x2="507.6" y2="62.1" stroke="#f01010" stroke-width="0.6"/>
<line x1="506.4" y1="57.1" x2="508.8" y2="57.1" stroke="#f01010" stroke-width="0.6"/>
<line x1="506.4" y1="62.1" x2="508.8" y2="62.1" stroke="#f01010" stroke-width="0.6"/>
<line x1="513.4" y1="61" x2="513.4" y2="67" stroke="#f01010" stroke-width="0.6"/>
<line x1="512.2" y1="61" x2="514.6" y2="61" stroke="#f01010" stroke-width="0.6"/>
<line x1="512.2" y1="67" x2="514.6" y2="67" stroke="#f01010" stroke-width="0.6"/>
<line x1="518" y1="51.5" x2="518" y2="60.5" stroke="#f01010" stroke-width="0.6"/>
<line x1="516.8" y1="51.5" x2="519.2" y2="51.5" stroke="#f01010" stroke-width="0.6"/>
<line x1="516.8" y1="60.5" x2="519.2" y2="60.5" stroke="#f01010" stroke-width="0.6"/>
<line x1="523.8" y1="56.9" x2="523.8" y2="65.9" stroke="#f01010" stroke-width="0.6"/>
<line x1="522.6" y1="56.9" x2="525" y2="56.9" stroke="#f01010" stroke-width="0.6"/>
<line x1="522.6" y1="65.9" x2="525" y2="65.9" stroke="#f01010" stroke-width="0.6"/>
<line x1="528.6" y1="48" x2="528.6" y2="64" stroke="#f01010" stroke-width="0.6"/>
<line x1="527.4" y1="48" x2="529.8" y2="48" stroke="#f01010" stroke-width="0.6"/>
<line x1="527.4" y1="64" x2="529.8" y2="64" stroke="#f01010" stroke-width="0.6"/>
<line x1="534.4" y1="51" x2="534.4" y2="63" stroke="#f01010" stroke-width="0.6"/>
<line x1="533.2" y1="51" x2="535.6" y2="51" stroke="#f01010" stroke-width="0.6"/>
<line x1="533.2" y1="63" x2="535.6" y2="63" stroke="#f01010" stroke-width="0.6"/>
<line x1="539" y1="40" x2="539" y2="57.2" stroke="#f01010" stroke-width="0.6"/>
<line x1="537.8" y1="40" x2="540.2" y2="40" stroke="#f01010" stroke-width="0.6"/>
<line x1="537.8" y1="57.2" x2="540.2" y2="57.2" stroke="#f01010" stroke-width="0.6"/>
<polyline points="460,109 465,109.5 471,106 475.4,104 481.4,103.6 486.4,86.4 492,76 497,70 502.6,75 507.6,59.6 513.4,64 518,56 523.8,61.4 528.6,56 534.4,57 539,48.6" fill="none" stroke="#f01010" stroke-width="0.7"/>
<circle cx="460" cy="109" r="2.0" fill="#f01010"/>
<circle cx="465" cy="109.5" r="2.0" fill="#f01010"/>
<circle cx="471" cy="106" r="2.0" fill="#f01010"/>
<circle cx="475.4" cy="104" r="2.0" fill="#f01010"/>
<circle cx="481.4" cy="103.6" r="2.0" fill="#f01010"/>
<circle cx="486.4" cy="86.4" r="2.0" fill="#f01010"/>
<circle cx="492" cy="76" r="2.0" fill="#f01010"/>
<circle cx="497" cy="70" r="2.0" fill="#f01010"/>
<circle cx="502.6" cy="75" r="2.0" fill="#f01010"/>
<circle cx="507.6" cy="59.6" r="2.0" fill="#f01010"/>
<circle cx="513.4" cy="64" r="2.0" fill="#f01010"/>
<circle cx="518" cy="56" r="2.0" fill="#f01010"/>
<circle cx="523.8" cy="61.4" r="2.0" fill="#f01010"/>
<circle cx="528.6" cy="56" r="2.0" fill="#f01010"/>
<circle cx="534.4" cy="57" r="2.0" fill="#f01010"/>
<circle cx="539" cy="48.6" r="2.0" fill="#f01010"/>
<line x1="486.4" y1="89.6" x2="486.4" y2="91.6" stroke="#5aa6f2" stroke-width="0.6"/>
<line x1="485.2" y1="89.6" x2="487.6" y2="89.6" stroke="#5aa6f2" stroke-width="0.6"/>
<line x1="485.2" y1="91.6" x2="487.6" y2="91.6" stroke="#5aa6f2" stroke-width="0.6"/>
<line x1="492" y1="88.6" x2="492" y2="90.6" stroke="#5aa6f2" stroke-width="0.6"/>
<line x1="490.8" y1="88.6" x2="493.2" y2="88.6" stroke="#5aa6f2" stroke-width="0.6"/>
<line x1="490.8" y1="90.6" x2="493.2" y2="90.6" stroke="#5aa6f2" stroke-width="0.6"/>
<line x1="497" y1="83.9" x2="497" y2="86.9" stroke="#5aa6f2" stroke-width="0.6"/>
<line x1="495.8" y1="83.9" x2="498.2" y2="83.9" stroke="#5aa6f2" stroke-width="0.6"/>
<line x1="495.8" y1="86.9" x2="498.2" y2="86.9" stroke="#5aa6f2" stroke-width="0.6"/>
<line x1="502.6" y1="79.6" x2="502.6" y2="86.4" stroke="#5aa6f2" stroke-width="0.6"/>
<line x1="501.4" y1="79.6" x2="503.8" y2="79.6" stroke="#5aa6f2" stroke-width="0.6"/>
<line x1="501.4" y1="86.4" x2="503.8" y2="86.4" stroke="#5aa6f2" stroke-width="0.6"/>
<line x1="507.6" y1="73.6" x2="507.6" y2="83.6" stroke="#5aa6f2" stroke-width="0.6"/>
<line x1="506.4" y1="73.6" x2="508.8" y2="73.6" stroke="#5aa6f2" stroke-width="0.6"/>
<line x1="506.4" y1="83.6" x2="508.8" y2="83.6" stroke="#5aa6f2" stroke-width="0.6"/>
<line x1="513.4" y1="77.4" x2="513.4" y2="85.4" stroke="#5aa6f2" stroke-width="0.6"/>
<line x1="512.2" y1="77.4" x2="514.6" y2="77.4" stroke="#5aa6f2" stroke-width="0.6"/>
<line x1="512.2" y1="85.4" x2="514.6" y2="85.4" stroke="#5aa6f2" stroke-width="0.6"/>
<line x1="518" y1="83.9" x2="518" y2="90.9" stroke="#5aa6f2" stroke-width="0.6"/>
<line x1="516.8" y1="83.9" x2="519.2" y2="83.9" stroke="#5aa6f2" stroke-width="0.6"/>
<line x1="516.8" y1="90.9" x2="519.2" y2="90.9" stroke="#5aa6f2" stroke-width="0.6"/>
<line x1="523.8" y1="79.6" x2="523.8" y2="87.6" stroke="#5aa6f2" stroke-width="0.6"/>
<line x1="522.6" y1="79.6" x2="525" y2="79.6" stroke="#5aa6f2" stroke-width="0.6"/>
<line x1="522.6" y1="87.6" x2="525" y2="87.6" stroke="#5aa6f2" stroke-width="0.6"/>
<line x1="528.6" y1="80.6" x2="528.6" y2="92.6" stroke="#5aa6f2" stroke-width="0.6"/>
<line x1="527.4" y1="80.6" x2="529.8" y2="80.6" stroke="#5aa6f2" stroke-width="0.6"/>
<line x1="527.4" y1="92.6" x2="529.8" y2="92.6" stroke="#5aa6f2" stroke-width="0.6"/>
<line x1="534.4" y1="76.9" x2="534.4" y2="89.9" stroke="#5aa6f2" stroke-width="0.6"/>
<line x1="533.2" y1="76.9" x2="535.6" y2="76.9" stroke="#5aa6f2" stroke-width="0.6"/>
<line x1="533.2" y1="89.9" x2="535.6" y2="89.9" stroke="#5aa6f2" stroke-width="0.6"/>
<line x1="539" y1="77" x2="539" y2="89" stroke="#5aa6f2" stroke-width="0.6"/>
<line x1="537.8" y1="77" x2="540.2" y2="77" stroke="#5aa6f2" stroke-width="0.6"/>
<line x1="537.8" y1="89" x2="540.2" y2="89" stroke="#5aa6f2" stroke-width="0.6"/>
<polyline points="460,108 465,109 471,103 475.4,104.4 481.4,100 486.4,90.6 492,89.6 497,85.4 502.6,83 507.6,78.6 513.4,81.4 518,87.4 523.8,83.6 528.6,86.6 534.4,83.4 539,83" fill="none" stroke="#5aa6f2" stroke-width="0.7"/>
<circle cx="460" cy="108" r="2.0" fill="#5aa6f2"/>
<circle cx="465" cy="109" r="2.0" fill="#5aa6f2"/>
<circle cx="471" cy="103" r="2.0" fill="#5aa6f2"/>
<circle cx="475.4" cy="104.4" r="2.0" fill="#5aa6f2"/>
<circle cx="481.4" cy="100" r="2.0" fill="#5aa6f2"/>
<circle cx="486.4" cy="90.6" r="2.0" fill="#5aa6f2"/>
<circle cx="492" cy="89.6" r="2.0" fill="#5aa6f2"/>
<circle cx="497" cy="85.4" r="2.0" fill="#5aa6f2"/>
<circle cx="502.6" cy="83" r="2.0" fill="#5aa6f2"/>
<circle cx="507.6" cy="78.6" r="2.0" fill="#5aa6f2"/>
<circle cx="513.4" cy="81.4" r="2.0" fill="#5aa6f2"/>
<circle cx="518" cy="87.4" r="2.0" fill="#5aa6f2"/>
<circle cx="523.8" cy="83.6" r="2.0" fill="#5aa6f2"/>
<circle cx="528.6" cy="86.6" r="2.0" fill="#5aa6f2"/>
<circle cx="534.4" cy="83.4" r="2.0" fill="#5aa6f2"/>
<circle cx="539" cy="83" r="2.0" fill="#5aa6f2"/>
<polyline points="460,109 465,109.6 471,107.6 475.4,107 481.4,108.6 486.4,108.6 492,106.6 497,109 502.6,107.4 507.6,108.6 513.4,106.6 518,106.4 523.8,104.4 528.6,107.4 534.4,104.4 539,111" fill="none" stroke="#000000" stroke-width="0.7"/>
<circle cx="460" cy="109" r="2.0" fill="#000000"/>
<circle cx="465" cy="109.6" r="2.0" fill="#000000"/>
<circle cx="471" cy="107.6" r="2.0" fill="#000000"/>
<circle cx="475.4" cy="107" r="2.0" fill="#000000"/>
<circle cx="481.4" cy="108.6" r="2.0" fill="#000000"/>
<circle cx="486.4" cy="108.6" r="2.0" fill="#000000"/>
<circle cx="492" cy="106.6" r="2.0" fill="#000000"/>
<circle cx="497" cy="109" r="2.0" fill="#000000"/>
<circle cx="502.6" cy="107.4" r="2.0" fill="#000000"/>
<circle cx="507.6" cy="108.6" r="2.0" fill="#000000"/>
<circle cx="513.4" cy="106.6" r="2.0" fill="#000000"/>
<circle cx="518" cy="106.4" r="2.0" fill="#000000"/>
<circle cx="523.8" cy="104.4" r="2.0" fill="#000000"/>
<circle cx="528.6" cy="107.4" r="2.0" fill="#000000"/>
<circle cx="534.4" cy="104.4" r="2.0" fill="#000000"/>
<circle cx="539" cy="111" r="2.0" fill="#000000"/>
<line x1="486.2" y1="67" x2="486.2" y2="78.24" stroke="#44506a" stroke-width="1.5"/>
<path d="M484,77.4 L486.2,81.6 L488.4,77.4 Z" fill="#44506a" stroke="none" stroke-width="0.7"/>
<line x1="589.6" y1="24.6" x2="589.6" y2="115" stroke="#909090" stroke-width="1.0"/>
<line x1="586.6" y1="114.6" x2="589.6" y2="114.6" stroke="#909090" stroke-width="1.0"/>
<text x="583.7" y="117.4" font-size="8.1" text-anchor="end" font-weight="normal" fill="#1e1e1e" stroke="#1e1e1e" stroke-width="0.12">0</text>
<line x1="586.6" y1="92.1" x2="589.6" y2="92.1" stroke="#909090" stroke-width="1.0"/>
<text x="583.7" y="94.9" font-size="8.1" text-anchor="end" font-weight="normal" fill="#1e1e1e" stroke="#1e1e1e" stroke-width="0.12">100</text>
<line x1="586.6" y1="69.6" x2="589.6" y2="69.6" stroke="#909090" stroke-width="1.0"/>
<text x="583.7" y="72.4" font-size="8.1" text-anchor="end" font-weight="normal" fill="#1e1e1e" stroke="#1e1e1e" stroke-width="0.12">200</text>
<line x1="586.6" y1="47.1" x2="589.6" y2="47.1" stroke="#909090" stroke-width="1.0"/>
<text x="583.7" y="49.9" font-size="8.1" text-anchor="end" font-weight="normal" fill="#1e1e1e" stroke="#1e1e1e" stroke-width="0.12">300</text>
<line x1="586.6" y1="24.6" x2="589.6" y2="24.6" stroke="#909090" stroke-width="1.0"/>
<text x="583.7" y="27.4" font-size="8.1" text-anchor="end" font-weight="normal" fill="#1e1e1e" stroke="#1e1e1e" stroke-width="0.12">400</text>
<rect x="608" y="24.6" width="6" height="90" fill="#fcdcbd"/>
<line x1="589.6" y1="115" x2="680" y2="115" stroke="#909090" stroke-width="1.0"/>
<line x1="589.6" y1="115" x2="589.6" y2="118.3" stroke="#909090" stroke-width="1.0"/>
<text x="589.6" y="128" font-size="8.1" text-anchor="middle" font-weight="normal" fill="#1e1e1e" stroke="#1e1e1e" stroke-width="0.12">0</text>
<line x1="604.67" y1="115" x2="604.67" y2="118.3" stroke="#909090" stroke-width="1.0"/>
<text x="604.67" y="128" font-size="8.1" text-anchor="middle" font-weight="normal" fill="#1e1e1e" stroke="#1e1e1e" stroke-width="0.12">10</text>
<line x1="619.74" y1="115" x2="619.74" y2="118.3" stroke="#909090" stroke-width="1.0"/>
<text x="619.74" y="128" font-size="8.1" text-anchor="middle" font-weight="normal" fill="#1e1e1e" stroke="#1e1e1e" stroke-width="0.12">20</text>
<line x1="634.81" y1="115" x2="634.81" y2="118.3" stroke="#909090" stroke-width="1.0"/>
<text x="634.81" y="128" font-size="8.1" text-anchor="middle" font-weight="normal" fill="#1e1e1e" stroke="#1e1e1e" stroke-width="0.12">30</text>
<line x1="649.88" y1="115" x2="649.88" y2="118.3" stroke="#909090" stroke-width="1.0"/>
<text x="649.88" y="128" font-size="8.1" text-anchor="middle" font-weight="normal" fill="#1e1e1e" stroke="#1e1e1e" stroke-width="0.12">40</text>
<line x1="664.95" y1="115" x2="664.95" y2="118.3" stroke="#909090" stroke-width="1.0"/>
<text x="664.95" y="128" font-size="8.1" text-anchor="middle" font-weight="normal" fill="#1e1e1e" stroke="#1e1e1e" stroke-width="0.12">50</text>
<line x1="680.02" y1="115" x2="680.02" y2="118.3" stroke="#909090" stroke-width="1.0"/>
<text x="680.02" y="128" font-size="8.1" text-anchor="middle" font-weight="normal" fill="#1e1e1e" stroke="#1e1e1e" stroke-width="0.12">60</text>
<text x="635" y="140.2" font-size="8.4" text-anchor="middle" font-weight="normal" fill="#1e1e1e" stroke="#1e1e1e" stroke-width="0.12">Day</text>
<text x="563.8" y="69.5" font-size="8.8" text-anchor="middle" font-weight="normal" fill="#1e1e1e" stroke="#1e1e1e" stroke-width="0.12" transform="rotate(-90 563.8 69.5)">UI/mouse</text>
<polyline points="589.6,114.6 591.04,114.6 592.48,114.6 593.92,114.59 595.36,114.58 596.8,114.57 598.24,114.56 599.67,114.54 601.11,114.53 602.55,114.51 603.99,114.49 605.43,114.46 606.87,114.44 608.31,114.41 609.75,114.38 611.19,114.35 612.63,114.31 614.07,114.27 615.51,114.23 616.94,114.19 618.38,114.15 619.82,114.1 621.26,114.05 622.7,114 624.14,113.95 625.58,113.89 627.02,113.84 628.46,113.78 629.9,113.72 631.34,113.65 632.78,113.58 634.21,113.52 635.65,113.44 637.09,113.37 638.53,113.3 639.97,113.22 641.41,113.14 642.85,113.05 644.29,112.97 645.73,112.88 647.17,112.79 648.61,112.7 650.05,112.61 651.48,112.51 652.92,112.41 654.36,112.31 655.8,112.21 657.24,112.11 658.68,112 660.12,111.89 661.56,111.78 663,111.66 664.44,111.55 665.88,111.43 667.32,111.31 668.76,111.19 670.19,111.06 671.63,110.93 673.07,110.8 674.51,110.67 675.95,110.54" fill="none" stroke="#000" stroke-width="1.8"/>
<path d="M589.6,114.6 L591.04,114.58 L592.48,114.56 L593.92,114.54 L595.36,114.51 L596.8,114.49 L598.24,114.47 L599.67,114.45 L601.11,114.43 L602.55,114.41 L603.99,114.39 L605.43,114.36 L606.87,114.34 L608.31,114.32 L609.75,114.3 L611.19,114.26 L612.63,113.87 L614.07,113.17 L615.51,112.31 L616.94,111.37 L618.38,110.38 L619.82,109.37 L621.26,108.35 L622.7,107.31 L624.14,106.27 L625.58,105.22 L627.02,104.17 L628.46,103.12 L629.9,102.06 L631.34,101 L632.78,99.94 L634.21,98.87 L635.65,97.81 L637.09,96.75 L638.53,95.68 L639.97,94.62 L641.41,93.55 L642.85,92.48 L644.29,91.41 L645.73,90.35 L647.17,89.28 L648.61,88.21 L650.05,87.14 L651.48,86.07 L652.92,85 L654.36,83.94 L655.8,82.87 L657.24,81.8 L658.68,80.73 L660.12,79.66 L661.56,78.59 L663,77.52 L664.44,76.45 L665.88,75.38 L667.32,74.31 L668.76,73.24 L670.19,72.17 L671.63,71.1 L673.07,70.03 L674.51,68.95 L675.95,67.88 L675.95,80.77 L674.51,81.55 L673.07,82.32 L671.63,83.1 L670.19,83.87 L668.76,84.65 L667.32,85.42 L665.88,86.2 L664.44,86.97 L663,87.75 L661.56,88.52 L660.12,89.3 L658.68,90.07 L657.24,90.85 L655.8,91.62 L654.36,92.39 L652.92,93.17 L651.48,93.94 L650.05,94.72 L648.61,95.49 L647.17,96.26 L645.73,97.04 L644.29,97.81 L642.85,98.58 L641.41,99.36 L639.97,100.13 L638.53,100.9 L637.09,101.67 L635.65,102.44 L634.21,103.21 L632.78,103.98 L631.34,104.75 L629.9,105.52 L628.46,106.28 L627.02,107.05 L625.58,107.81 L624.14,108.57 L622.7,109.32 L621.26,110.07 L619.82,110.82 L618.38,111.55 L616.94,112.26 L615.51,112.94 L614.07,113.56 L612.63,114.07 L611.19,114.35 L609.75,114.38 L608.31,114.4 L606.87,114.41 L605.43,114.43 L603.99,114.45 L602.55,114.46 L601.11,114.48 L599.67,114.49 L598.24,114.51 L596.8,114.52 L595.36,114.54 L593.92,114.55 L592.48,114.57 L591.04,114.58 L589.6,114.6Z" fill="#a9e0fa" stroke="none" stroke-width="0.7"/>
<polyline points="589.6,114.6 591.04,114.58 592.48,114.56 593.92,114.54 595.36,114.51 596.8,114.49 598.24,114.47 599.67,114.45 601.11,114.43 602.55,114.41 603.99,114.39 605.43,114.36 606.87,114.34 608.31,114.32 609.75,114.3 611.19,114.26 612.63,113.87 614.07,113.17 615.51,112.31 616.94,111.37 618.38,110.38 619.82,109.37 621.26,108.35 622.7,107.31 624.14,106.27 625.58,105.22 627.02,104.17 628.46,103.12 629.9,102.06 631.34,101 632.78,99.94 634.21,98.87 635.65,97.81 637.09,96.75 638.53,95.68 639.97,94.62 641.41,93.55 642.85,92.48 644.29,91.41 645.73,90.35 647.17,89.28 648.61,88.21 650.05,87.14 651.48,86.07 652.92,85 654.36,83.94 655.8,82.87 657.24,81.8 658.68,80.73 660.12,79.66 661.56,78.59 663,77.52 664.44,76.45 665.88,75.38 667.32,74.31 668.76,73.24 670.19,72.17 671.63,71.1 673.07,70.03 674.51,68.95 675.95,67.88" fill="none" stroke="#3fa3ee" stroke-width="0.5"/>
<polyline points="589.6,114.6 591.04,114.58 592.48,114.57 593.92,114.55 595.36,114.54 596.8,114.52 598.24,114.51 599.67,114.49 601.11,114.48 602.55,114.46 603.99,114.45 605.43,114.43 606.87,114.41 608.31,114.4 609.75,114.38 611.19,114.35 612.63,114.07 614.07,113.56 615.51,112.94 616.94,112.26 618.38,111.55 619.82,110.82 621.26,110.07 622.7,109.32 624.14,108.57 625.58,107.81 627.02,107.05 628.46,106.28 629.9,105.52 631.34,104.75 632.78,103.98 634.21,103.21 635.65,102.44 637.09,101.67 638.53,100.9 639.97,100.13 641.41,99.36 642.85,98.58 644.29,97.81 645.73,97.04 647.17,96.26 648.61,95.49 650.05,94.72 651.48,93.94 652.92,93.17 654.36,92.39 655.8,91.62 657.24,90.85 658.68,90.07 660.12,89.3 661.56,88.52 663,87.75 664.44,86.97 665.88,86.2 667.32,85.42 668.76,84.65 670.19,83.87 671.63,83.1 673.07,82.32 674.51,81.55 675.95,80.77" fill="none" stroke="#3fa3ee" stroke-width="0.5"/>
<polyline points="589.6,114.6 591.04,114.58 592.48,114.56 593.92,114.54 595.36,114.53 596.8,114.51 598.24,114.49 599.67,114.47 601.11,114.45 602.55,114.43 603.99,114.42 605.43,114.4 606.87,114.38 608.31,114.36 609.75,114.34 611.19,114.3 612.63,113.97 614.07,113.36 615.51,112.62 616.94,111.81 618.38,110.96 619.82,110.1 621.26,109.21 622.7,108.32 624.14,107.42 625.58,106.52 627.02,105.61 628.46,104.7 629.9,103.79 631.34,102.87 632.78,101.96 634.21,101.04 635.65,100.13 637.09,99.21 638.53,98.29 639.97,97.37 641.41,96.45 642.85,95.53 644.29,94.61 645.73,93.69 647.17,92.77 648.61,91.85 650.05,90.93 651.48,90.01 652.92,89.09 654.36,88.16 655.8,87.24 657.24,86.32 658.68,85.4 660.12,84.48 661.56,83.55 663,82.63 664.44,81.71 665.88,80.79 667.32,79.86 668.76,78.94 670.19,78.02 671.63,77.1 673.07,76.17 674.51,75.25 675.95,74.33" fill="none" stroke="#3d8fe6" stroke-width="1.7"/>
<path d="M589.6,114.6 L591.04,114.58 L592.48,114.57 L593.92,114.55 L595.36,114.53 L596.8,114.52 L598.24,114.5 L599.67,114.48 L601.11,114.47 L602.55,114.45 L603.99,114.43 L605.43,114.42 L606.87,114.4 L608.31,114.38 L609.75,114.37 L611.19,114.35 L612.63,114.33 L614.07,114.32 L615.51,114.29 L616.94,113.74 L618.38,112.71 L619.82,111.47 L621.26,110.14 L622.7,108.74 L624.14,107.29 L625.58,105.8 L627.02,104.29 L628.46,102.74 L629.9,101.16 L631.34,99.56 L632.78,97.92 L634.21,96.27 L635.65,94.58 L637.09,92.87 L638.53,91.14 L639.97,89.38 L641.41,87.59 L642.85,85.78 L644.29,83.94 L645.73,82.08 L647.17,80.2 L648.61,78.28 L650.05,76.35 L651.48,74.39 L652.92,72.4 L654.36,70.39 L655.8,68.36 L657.24,66.3 L658.68,64.21 L660.12,62.1 L661.56,59.97 L663,57.81 L664.44,55.63 L665.88,53.42 L667.32,51.18 L668.76,48.93 L670.19,46.64 L671.63,44.34 L673.07,42.01 L674.51,39.65 L675.95,37.27 L675.95,51.33 L674.51,53.28 L673.07,55.2 L671.63,57.11 L670.19,59 L668.76,60.87 L667.32,62.71 L665.88,64.54 L664.44,66.35 L663,68.13 L661.56,69.9 L660.12,71.65 L658.68,73.37 L657.24,75.08 L655.8,76.76 L654.36,78.43 L652.92,80.07 L651.48,81.7 L650.05,83.3 L648.61,84.89 L647.17,86.45 L645.73,87.99 L644.29,89.52 L642.85,91.02 L641.41,92.5 L639.97,93.96 L638.53,95.4 L637.09,96.82 L635.65,98.22 L634.21,99.6 L632.78,100.96 L631.34,102.29 L629.9,103.6 L628.46,104.9 L627.02,106.16 L625.58,107.4 L624.14,108.62 L622.7,109.8 L621.26,110.95 L619.82,112.04 L618.38,113.05 L616.94,113.89 L615.51,114.34 L614.07,114.37 L612.63,114.38 L611.19,114.4 L609.75,114.41 L608.31,114.42 L606.87,114.44 L605.43,114.45 L603.99,114.46 L602.55,114.48 L601.11,114.49 L599.67,114.5 L598.24,114.52 L596.8,114.53 L595.36,114.55 L593.92,114.56 L592.48,114.57 L591.04,114.59 L589.6,114.6Z" fill="#ffa8a8" stroke="none" stroke-width="0.7"/>
<polyline points="589.6,114.6 591.04,114.58 592.48,114.57 593.92,114.55 595.36,114.53 596.8,114.52 598.24,114.5 599.67,114.48 601.11,114.47 602.55,114.45 603.99,114.43 605.43,114.42 606.87,114.4 608.31,114.38 609.75,114.37 611.19,114.35 612.63,114.33 614.07,114.32 615.51,114.29 616.94,113.74 618.38,112.71 619.82,111.47 621.26,110.14 622.7,108.74 624.14,107.29 625.58,105.8 627.02,104.29 628.46,102.74 629.9,101.16 631.34,99.56 632.78,97.92 634.21,96.27 635.65,94.58 637.09,92.87 638.53,91.14 639.97,89.38 641.41,87.59 642.85,85.78 644.29,83.94 645.73,82.08 647.17,80.2 648.61,78.28 650.05,76.35 651.48,74.39 652.92,72.4 654.36,70.39 655.8,68.36 657.24,66.3 658.68,64.21 660.12,62.1 661.56,59.97 663,57.81 664.44,55.63 665.88,53.42 667.32,51.18 668.76,48.93 670.19,46.64 671.63,44.34 673.07,42.01 674.51,39.65 675.95,37.27" fill="none" stroke="#e80000" stroke-width="0.7"/>
<polyline points="589.6,114.6 591.04,114.59 592.48,114.57 593.92,114.56 595.36,114.55 596.8,114.53 598.24,114.52 599.67,114.5 601.11,114.49 602.55,114.48 603.99,114.46 605.43,114.45 606.87,114.44 608.31,114.42 609.75,114.41 611.19,114.4 612.63,114.38 614.07,114.37 615.51,114.34 616.94,113.89 618.38,113.05 619.82,112.04 621.26,110.95 622.7,109.8 624.14,108.62 625.58,107.4 627.02,106.16 628.46,104.9 629.9,103.6 631.34,102.29 632.78,100.96 634.21,99.6 635.65,98.22 637.09,96.82 638.53,95.4 639.97,93.96 641.41,92.5 642.85,91.02 644.29,89.52 645.73,87.99 647.17,86.45 648.61,84.89 650.05,83.3 651.48,81.7 652.92,80.07 654.36,78.43 655.8,76.76 657.24,75.08 658.68,73.37 660.12,71.65 661.56,69.9 663,68.13 664.44,66.35 665.88,64.54 667.32,62.71 668.76,60.87 670.19,59 671.63,57.11 673.07,55.2 674.51,53.28 675.95,51.33" fill="none" stroke="#e80000" stroke-width="0.7"/>
<polyline points="589.6,114.6 591.04,114.58 592.48,114.57 593.92,114.55 595.36,114.54 596.8,114.52 598.24,114.51 599.67,114.49 601.11,114.48 602.55,114.46 603.99,114.45 605.43,114.43 606.87,114.42 608.31,114.4 609.75,114.39 611.19,114.37 612.63,114.36 614.07,114.34 615.51,114.31 616.94,113.81 618.38,112.88 619.82,111.76 621.26,110.54 622.7,109.27 624.14,107.95 625.58,106.6 627.02,105.22 628.46,103.82 629.9,102.38 631.34,100.92 632.78,99.44 634.21,97.93 635.65,96.4 637.09,94.85 638.53,93.27 639.97,91.67 641.41,90.05 642.85,88.4 644.29,86.73 645.73,85.04 647.17,83.32 648.61,81.59 650.05,79.83 651.48,78.04 652.92,76.24 654.36,74.41 655.8,72.56 657.24,70.69 658.68,68.79 660.12,66.87 661.56,64.93 663,62.97 664.44,60.99 665.88,58.98 667.32,56.95 668.76,54.9 670.19,52.82 671.63,50.73 673.07,48.61 674.51,46.46 675.95,44.3" fill="none" stroke="#f00000" stroke-width="1.8"/>
<line x1="620" y1="94" x2="620" y2="104.64" stroke="#44506a" stroke-width="1.5"/>
<path d="M617.8,103.8 L620,108 L622.2,103.8 Z" fill="#44506a" stroke="none" stroke-width="0.7"/>
<line x1="29.6" y1="174.4" x2="29.6" y2="264.4" stroke="#909090" stroke-width="1.0"/>
<line x1="26.6" y1="264.4" x2="29.6" y2="264.4" stroke="#909090" stroke-width="1.0"/>
<text x="23.7" y="267.2" font-size="8.1" text-anchor="end" font-weight="normal" fill="#1e1e1e" stroke="#1e1e1e" stroke-width="0.12">0</text>
<line x1="26.6" y1="249.4" x2="29.6" y2="249.4" stroke="#909090" stroke-width="1.0"/>
<text x="23.7" y="252.2" font-size="8.1" text-anchor="end" font-weight="normal" fill="#1e1e1e" stroke="#1e1e1e" stroke-width="0.12">2</text>
<line x1="26.6" y1="234.4" x2="29.6" y2="234.4" stroke="#909090" stroke-width="1.0"/>
<text x="23.7" y="237.2" font-size="8.1" text-anchor="end" font-weight="normal" fill="#1e1e1e" stroke="#1e1e1e" stroke-width="0.12">4</text>
<line x1="26.6" y1="219.4" x2="29.6" y2="219.4" stroke="#909090" stroke-width="1.0"/>
<text x="23.7" y="222.2" font-size="8.1" text-anchor="end" font-weight="normal" fill="#1e1e1e" stroke="#1e1e1e" stroke-width="0.12">6</text>
<line x1="26.6" y1="204.4" x2="29.6" y2="204.4" stroke="#909090" stroke-width="1.0"/>
<text x="23.7" y="207.2" font-size="8.1" text-anchor="end" font-weight="normal" fill="#1e1e1e" stroke="#1e1e1e" stroke-width="0.12">8</text>
<line x1="26.6" y1="189.4" x2="29.6" y2="189.4" stroke="#909090" stroke-width="1.0"/>
<text x="23.7" y="192.2" font-size="8.1" text-anchor="end" font-weight="normal" fill="#1e1e1e" stroke="#1e1e1e" stroke-width="0.12">10</text>
<line x1="26.6" y1="174.4" x2="29.6" y2="174.4" stroke="#909090" stroke-width="1.0"/>
<text x="23.7" y="177.2" font-size="8.1" text-anchor="end" font-weight="normal" fill="#1e1e1e" stroke="#1e1e1e" stroke-width="0.12">12</text>
<line x1="27.4" y1="264.4" x2="80.5" y2="264.4" stroke="#909090" stroke-width="0.8"/>
<line x1="41.6" y1="264.4" x2="41.6" y2="267" stroke="#909090" stroke-width="0.8"/>
<line x1="67.6" y1="264.4" x2="67.6" y2="267" stroke="#909090" stroke-width="0.8"/>
<text x="41.6" y="277.2" font-size="7.6" text-anchor="middle" font-weight="normal" fill="#1e1e1e" stroke="#1e1e1e" stroke-width="0.12">0–11</text>
<text x="67.6" y="277.2" font-size="7.6" text-anchor="middle" font-weight="normal" fill="#1e1e1e" stroke="#1e1e1e" stroke-width="0.12">29–57</text>
<text x="54.7" y="289" font-size="8.4" text-anchor="middle" font-weight="normal" fill="#1e1e1e" stroke="#1e1e1e" stroke-width="0.12">Day</text>
<text x="7.2" y="219.5" font-size="8.8" text-anchor="middle" font-weight="normal" fill="#1e1e1e" stroke="#1e1e1e" stroke-width="0.12" transform="rotate(-90 7.2 219.5)">ΔUI/mouse/day</text>
<rect x="33" y="263.8" width="3.6" height="0.6" fill="#000" stroke="#000" stroke-width="0.5"/>
<rect x="40" y="263.27" width="3.6" height="1.12" fill="#5aa6f2" stroke="#3d7fcf" stroke-width="0.5"/>
<rect x="47" y="263.27" width="3.6" height="1.12" fill="#f01010" stroke="#a00000" stroke-width="0.5"/>
<rect x="59" y="261.4" width="3.6" height="3" fill="#000" stroke="#000" stroke-width="0.5"/>
<line x1="67.8" y1="231.4" x2="67.8" y2="225.4" stroke="#555" stroke-width="0.6"/>
<line x1="66.8" y1="225.4" x2="68.8" y2="225.4" stroke="#555" stroke-width="0.6"/>
<rect x="66" y="231.4" width="3.6" height="33" fill="#5aa6f2" stroke="#3d7fcf" stroke-width="0.5"/>
<line x1="74.8" y1="199.15" x2="74.8" y2="192.4" stroke="#555" stroke-width="0.6"/>
<line x1="73.8" y1="192.4" x2="75.8" y2="192.4" stroke="#555" stroke-width="0.6"/>
<rect x="73" y="199.15" width="3.6" height="65.25" fill="#f01010" stroke="#a00000" stroke-width="0.5"/>
<line x1="34" y1="254.5" x2="49" y2="254.5" stroke="#333" stroke-width="0.9"/>
<text x="42" y="251.5" font-size="7" text-anchor="middle" font-weight="normal" fill="#1e1e1e" stroke="#1e1e1e" stroke-width="0.12">NS</text>
<path d="M60.6,257 V217.4 H68.6 V221" fill="none" stroke="#555" stroke-width="0.6"/>
<path d="M68.6,207 V185 H75 V188" fill="none" stroke="#555" stroke-width="0.6"/>
<path d="M60.6,215 V172.4 H75 V175" fill="none" stroke="#555" stroke-width="0.6"/>
<text x="62" y="218" font-size="11.2" text-anchor="middle" fill="#2b2b2b" stroke="#2b2b2b" stroke-width="0.3">****</text>
<text x="72" y="186.3" font-size="11.2" text-anchor="middle" fill="#2b2b2b" stroke="#2b2b2b" stroke-width="0.3">****</text>
<text x="68.3" y="172" font-size="11.2" text-anchor="middle" fill="#2b2b2b" stroke="#2b2b2b" stroke-width="0.3">****</text>
<rect x="87.4" y="168.4" width="7" height="7" fill="#f01010"/>
<text x="99.4" y="174.6" font-size="7.9" text-anchor="start" font-weight="normal" fill="#1e1e1e" stroke="#1e1e1e" stroke-width="0.12">STZ high</text>
<rect x="87.4" y="181" width="7" height="7" fill="#5aa6f2"/>
<text x="99.4" y="187.2" font-size="7.9" text-anchor="start" font-weight="normal" fill="#1e1e1e" stroke="#1e1e1e" stroke-width="0.12">STZ low</text>
<rect x="87.4" y="194" width="7" height="7" fill="#000"/>
<text x="99.4" y="200.2" font-size="7.9" text-anchor="start" font-weight="normal" fill="#1e1e1e" stroke="#1e1e1e" stroke-width="0.12">Ctrl</text>
<rect x="219.4" y="174.4" width="45.5" height="90" fill="#dedede"/>
<line x1="174.4" y1="174.4" x2="174.4" y2="264.4" stroke="#909090" stroke-width="1.0"/>
<line x1="171.4" y1="174.4" x2="174.4" y2="174.4" stroke="#909090" stroke-width="1.0"/>
<text x="168.5" y="177.2" font-size="8.1" text-anchor="end" font-weight="normal" fill="#1e1e1e" stroke="#1e1e1e" stroke-width="0.12">1.5</text>
<line x1="171.4" y1="196.9" x2="174.4" y2="196.9" stroke="#909090" stroke-width="1.0"/>
<text x="168.5" y="199.7" font-size="8.1" text-anchor="end" font-weight="normal" fill="#1e1e1e" stroke="#1e1e1e" stroke-width="0.12">1.0</text>
<line x1="171.4" y1="219.4" x2="174.4" y2="219.4" stroke="#909090" stroke-width="1.0"/>
<text x="168.5" y="222.2" font-size="8.1" text-anchor="end" font-weight="normal" fill="#1e1e1e" stroke="#1e1e1e" stroke-width="0.12">0.5</text>
<line x1="171.4" y1="241.9" x2="174.4" y2="241.9" stroke="#909090" stroke-width="1.0"/>
<text x="168.5" y="244.7" font-size="8.1" text-anchor="end" font-weight="normal" fill="#1e1e1e" stroke="#1e1e1e" stroke-width="0.12">0</text>
<line x1="171.4" y1="264.4" x2="174.4" y2="264.4" stroke="#909090" stroke-width="1.0"/>
<text x="168.5" y="267.2" font-size="8.1" text-anchor="end" font-weight="normal" fill="#1e1e1e" stroke="#1e1e1e" stroke-width="0.12">−0.5</text>
<line x1="174.4" y1="264.4" x2="264.4" y2="264.4" stroke="#909090" stroke-width="1.0"/>
<line x1="174.4" y1="264.4" x2="174.4" y2="267.7" stroke="#909090" stroke-width="1.0"/>
<text x="174.4" y="278" font-size="8.1" text-anchor="middle" font-weight="normal" fill="#1e1e1e" stroke="#1e1e1e" stroke-width="0.12">0</text>
<line x1="185.65" y1="264.4" x2="185.65" y2="267.7" stroke="#909090" stroke-width="1.0"/>
<text x="185.65" y="278" font-size="8.1" text-anchor="middle" font-weight="normal" fill="#1e1e1e" stroke="#1e1e1e" stroke-width="0.12">3</text>
<line x1="196.9" y1="264.4" x2="196.9" y2="267.7" stroke="#909090" stroke-width="1.0"/>
<text x="196.9" y="278" font-size="8.1" text-anchor="middle" font-weight="normal" fill="#1e1e1e" stroke="#1e1e1e" stroke-width="0.12">6</text>
<line x1="208.15" y1="264.4" x2="208.15" y2="267.7" stroke="#909090" stroke-width="1.0"/>
<text x="208.15" y="278" font-size="8.1" text-anchor="middle" font-weight="normal" fill="#1e1e1e" stroke="#1e1e1e" stroke-width="0.12">9</text>
<line x1="219.4" y1="264.4" x2="219.4" y2="267.7" stroke="#909090" stroke-width="1.0"/>
<text x="219.4" y="278" font-size="8.1" text-anchor="middle" font-weight="normal" fill="#1e1e1e" stroke="#1e1e1e" stroke-width="0.12">12</text>
<line x1="230.65" y1="264.4" x2="230.65" y2="267.7" stroke="#909090" stroke-width="1.0"/>
<text x="230.65" y="278" font-size="8.1" text-anchor="middle" font-weight="normal" fill="#1e1e1e" stroke="#1e1e1e" stroke-width="0.12">15</text>
<line x1="241.9" y1="264.4" x2="241.9" y2="267.7" stroke="#909090" stroke-width="1.0"/>
<text x="241.9" y="278" font-size="8.1" text-anchor="middle" font-weight="normal" fill="#1e1e1e" stroke="#1e1e1e" stroke-width="0.12">18</text>
<line x1="253.15" y1="264.4" x2="253.15" y2="267.7" stroke="#909090" stroke-width="1.0"/>
<text x="253.15" y="278" font-size="8.1" text-anchor="middle" font-weight="normal" fill="#1e1e1e" stroke="#1e1e1e" stroke-width="0.12">21</text>
<line x1="264.4" y1="264.4" x2="264.4" y2="267.7" stroke="#909090" stroke-width="1.0"/>
<text x="264.4" y="278" font-size="8.1" text-anchor="middle" font-weight="normal" fill="#1e1e1e" stroke="#1e1e1e" stroke-width="0.12">24</text>
<text x="219.4" y="290" font-size="8.4" text-anchor="middle" font-weight="normal" fill="#1e1e1e" stroke="#1e1e1e" stroke-width="0.12">ZT (h)</text>
<text x="152.5" y="219.4" font-size="8.8" text-anchor="middle" font-weight="normal" fill="#1e1e1e" stroke="#1e1e1e" stroke-width="0.12" transform="rotate(-90 152.5 219.4)">ΔUI/mouse/h</text>
<line x1="178.93" y1="242.1" x2="264.4" y2="242.1" stroke="#000" stroke-width="1.6" stroke-dasharray="1.6 3.73"/>
<line x1="177.6" y1="179" x2="196.4" y2="179" stroke="#f7a0a0" stroke-width="0.8"/>
<circle cx="187" cy="179" r="2.0" fill="#f01010"/>
<text x="201.4" y="181.7" font-size="7.9" text-anchor="start" font-weight="normal" fill="#1e1e1e" stroke="#1e1e1e" stroke-width="0.12">STZ high</text>
<line x1="177.6" y1="188.4" x2="196.4" y2="188.4" stroke="#b5d6f7" stroke-width="0.8"/>
<circle cx="187" cy="188.4" r="2.0" fill="#5aa6f2"/>
<text x="201.4" y="191.1" font-size="7.9" text-anchor="start" font-weight="normal" fill="#1e1e1e" stroke="#1e1e1e" stroke-width="0.12">STZ low</text>
<line x1="177.6" y1="198.4" x2="196.4" y2="198.4" stroke="#707070" stroke-width="0.8"/>
<circle cx="187" cy="198.4" r="2.0" fill="#000000"/>
<text x="201.4" y="201.1" font-size="7.9" text-anchor="start" font-weight="normal" fill="#1e1e1e" stroke="#1e1e1e" stroke-width="0.12">Ctrl</text>
<polyline points="176.28,243.7 180.03,245.5 183.78,244.6 187.53,245.05 191.28,248.65 195.03,244.6 198.78,243.7 202.53,243.25 206.28,243.25 210.02,241.9 213.77,241 217.52,242.8 221.27,234.25 225.02,232.9 228.77,237.4 232.52,238.3 236.27,239.65 240.02,240.55 243.77,239.2 247.52,239.65 251.27,239.65 255.02,243.7 258.77,244.15 262.52,237.4" fill="none" stroke="#f01010" stroke-width="0.7"/>
<circle cx="176.28" cy="243.7" r="2.0" fill="#f01010"/>
<circle cx="180.03" cy="245.5" r="2.0" fill="#f01010"/>
<circle cx="183.78" cy="244.6" r="2.0" fill="#f01010"/>
<circle cx="187.53" cy="245.05" r="2.0" fill="#f01010"/>
<circle cx="191.28" cy="248.65" r="2.0" fill="#f01010"/>
<circle cx="195.03" cy="244.6" r="2.0" fill="#f01010"/>
<circle cx="198.78" cy="243.7" r="2.0" fill="#f01010"/>
<circle cx="202.53" cy="243.25" r="2.0" fill="#f01010"/>
<circle cx="206.28" cy="243.25" r="2.0" fill="#f01010"/>
<circle cx="210.02" cy="241.9" r="2.0" fill="#f01010"/>
<circle cx="213.77" cy="241" r="2.0" fill="#f01010"/>
<circle cx="217.52" cy="242.8" r="2.0" fill="#f01010"/>
<circle cx="221.27" cy="234.25" r="2.0" fill="#f01010"/>
<circle cx="225.02" cy="232.9" r="2.0" fill="#f01010"/>
<circle cx="228.77" cy="237.4" r="2.0" fill="#f01010"/>
<circle cx="232.52" cy="238.3" r="2.0" fill="#f01010"/>
<circle cx="236.27" cy="239.65" r="2.0" fill="#f01010"/>
<circle cx="240.02" cy="240.55" r="2.0" fill="#f01010"/>
<circle cx="243.77" cy="239.2" r="2.0" fill="#f01010"/>
<circle cx="247.52" cy="239.65" r="2.0" fill="#f01010"/>
<circle cx="251.27" cy="239.65" r="2.0" fill="#f01010"/>
<circle cx="255.02" cy="243.7" r="2.0" fill="#f01010"/>
<circle cx="258.77" cy="244.15" r="2.0" fill="#f01010"/>
<circle cx="262.52" cy="237.4" r="2.0" fill="#f01010"/>
<polyline points="176.28,240.55 180.03,247.3 183.78,247.75 187.53,246.4 191.28,244.15 195.03,245.5 198.78,244.15 202.53,244.15 206.28,242.8 210.02,241.9 213.77,240.55 217.52,238.3 221.27,234.7 225.02,234.7 228.77,236.5 232.52,238.3 236.27,239.2 240.02,237.85 243.77,241 247.52,242.8 251.27,241.9 255.02,243.25 258.77,242.35 262.52,238.3" fill="none" stroke="#5aa6f2" stroke-width="0.7"/>
<circle cx="176.28" cy="240.55" r="2.0" fill="#5aa6f2"/>
<circle cx="180.03" cy="247.3" r="2.0" fill="#5aa6f2"/>
<circle cx="183.78" cy="247.75" r="2.0" fill="#5aa6f2"/>
<circle cx="187.53" cy="246.4" r="2.0" fill="#5aa6f2"/>
<circle cx="191.28" cy="244.15" r="2.0" fill="#5aa6f2"/>
<circle cx="195.03" cy="245.5" r="2.0" fill="#5aa6f2"/>
<circle cx="198.78" cy="244.15" r="2.0" fill="#5aa6f2"/>
<circle cx="202.53" cy="244.15" r="2.0" fill="#5aa6f2"/>
<circle cx="206.28" cy="242.8" r="2.0" fill="#5aa6f2"/>
<circle cx="210.02" cy="241.9" r="2.0" fill="#5aa6f2"/>
<circle cx="213.77" cy="240.55" r="2.0" fill="#5aa6f2"/>
<circle cx="217.52" cy="238.3" r="2.0" fill="#5aa6f2"/>
<circle cx="221.27" cy="234.7" r="2.0" fill="#5aa6f2"/>
<circle cx="225.02" cy="234.7" r="2.0" fill="#5aa6f2"/>
<circle cx="228.77" cy="236.5" r="2.0" fill="#5aa6f2"/>
<circle cx="232.52" cy="238.3" r="2.0" fill="#5aa6f2"/>
<circle cx="236.27" cy="239.2" r="2.0" fill="#5aa6f2"/>
<circle cx="240.02" cy="237.85" r="2.0" fill="#5aa6f2"/>
<circle cx="243.77" cy="241" r="2.0" fill="#5aa6f2"/>
<circle cx="247.52" cy="242.8" r="2.0" fill="#5aa6f2"/>
<circle cx="251.27" cy="241.9" r="2.0" fill="#5aa6f2"/>
<circle cx="255.02" cy="243.25" r="2.0" fill="#5aa6f2"/>
<circle cx="258.77" cy="242.35" r="2.0" fill="#5aa6f2"/>
<circle cx="262.52" cy="238.3" r="2.0" fill="#5aa6f2"/>
<polyline points="176.28,243.25 180.03,246.4 183.78,243.7 187.53,246.4 191.28,245.95 195.03,245.05 198.78,244.6 202.53,244.6 206.28,243.7 210.02,241 213.77,241.45 217.52,239.2 221.27,233.8 225.02,235.6 228.77,237.4 232.52,239.2 236.27,239.2 240.02,241.45 243.77,241.9 247.52,242.35 251.27,242.8 255.02,242.8 258.77,240.55 262.52,237.4" fill="none" stroke="#000000" stroke-width="0.7"/>
<circle cx="176.28" cy="243.25" r="2.0" fill="#000000"/>
<circle cx="180.03" cy="246.4" r="2.0" fill="#000000"/>
<circle cx="183.78" cy="243.7" r="2.0" fill="#000000"/>
<circle cx="187.53" cy="246.4" r="2.0" fill="#000000"/>
<circle cx="191.28" cy="245.95" r="2.0" fill="#000000"/>
<circle cx="195.03" cy="245.05" r="2.0" fill="#000000"/>
<circle cx="198.78" cy="244.6" r="2.0" fill="#000000"/>
<circle cx="202.53" cy="244.6" r="2.0" fill="#000000"/>
<circle cx="206.28" cy="243.7" r="2.0" fill="#000000"/>
<circle cx="210.02" cy="241" r="2.0" fill="#000000"/>
<circle cx="213.77" cy="241.45" r="2.0" fill="#000000"/>
<circle cx="217.52" cy="239.2" r="2.0" fill="#000000"/>
<circle cx="221.27" cy="233.8" r="2.0" fill="#000000"/>
<circle cx="225.02" cy="235.6" r="2.0" fill="#000000"/>
<circle cx="228.77" cy="237.4" r="2.0" fill="#000000"/>
<circle cx="232.52" cy="239.2" r="2.0" fill="#000000"/>
<circle cx="236.27" cy="239.2" r="2.0" fill="#000000"/>
<circle cx="240.02" cy="241.45" r="2.0" fill="#000000"/>
<circle cx="243.77" cy="241.9" r="2.0" fill="#000000"/>
<circle cx="247.52" cy="242.35" r="2.0" fill="#000000"/>
<circle cx="251.27" cy="242.8" r="2.0" fill="#000000"/>
<circle cx="255.02" cy="242.8" r="2.0" fill="#000000"/>
<circle cx="258.77" cy="240.55" r="2.0" fill="#000000"/>
<circle cx="262.52" cy="237.4" r="2.0" fill="#000000"/>
<rect x="359.8" y="174.4" width="45.7" height="90" fill="#dedede"/>
<line x1="314.6" y1="174.4" x2="314.6" y2="264.4" stroke="#909090" stroke-width="1.0"/>
<line x1="311.6" y1="174.4" x2="314.6" y2="174.4" stroke="#909090" stroke-width="1.0"/>
<text x="308.7" y="177.2" font-size="8.1" text-anchor="end" font-weight="normal" fill="#1e1e1e" stroke="#1e1e1e" stroke-width="0.12">1.5</text>
<line x1="311.6" y1="196.9" x2="314.6" y2="196.9" stroke="#909090" stroke-width="1.0"/>
<text x="308.7" y="199.7" font-size="8.1" text-anchor="end" font-weight="normal" fill="#1e1e1e" stroke="#1e1e1e" stroke-width="0.12">1.0</text>
<line x1="311.6" y1="219.4" x2="314.6" y2="219.4" stroke="#909090" stroke-width="1.0"/>
<text x="308.7" y="222.2" font-size="8.1" text-anchor="end" font-weight="normal" fill="#1e1e1e" stroke="#1e1e1e" stroke-width="0.12">0.5</text>
<line x1="311.6" y1="241.9" x2="314.6" y2="241.9" stroke="#909090" stroke-width="1.0"/>
<text x="308.7" y="244.7" font-size="8.1" text-anchor="end" font-weight="normal" fill="#1e1e1e" stroke="#1e1e1e" stroke-width="0.12">0</text>
<line x1="311.6" y1="264.4" x2="314.6" y2="264.4" stroke="#909090" stroke-width="1.0"/>
<text x="308.7" y="267.2" font-size="8.1" text-anchor="end" font-weight="normal" fill="#1e1e1e" stroke="#1e1e1e" stroke-width="0.12">−0.5</text>
<line x1="314.6" y1="264.4" x2="405" y2="264.4" stroke="#909090" stroke-width="1.0"/>
<line x1="314.6" y1="264.4" x2="314.6" y2="267.7" stroke="#909090" stroke-width="1.0"/>
<text x="314.6" y="278" font-size="8.1" text-anchor="middle" font-weight="normal" fill="#1e1e1e" stroke="#1e1e1e" stroke-width="0.12">0</text>
<line x1="325.9" y1="264.4" x2="325.9" y2="267.7" stroke="#909090" stroke-width="1.0"/>
<text x="325.9" y="278" font-size="8.1" text-anchor="middle" font-weight="normal" fill="#1e1e1e" stroke="#1e1e1e" stroke-width="0.12">3</text>
<line x1="337.2" y1="264.4" x2="337.2" y2="267.7" stroke="#909090" stroke-width="1.0"/>
<text x="337.2" y="278" font-size="8.1" text-anchor="middle" font-weight="normal" fill="#1e1e1e" stroke="#1e1e1e" stroke-width="0.12">6</text>
<line x1="348.5" y1="264.4" x2="348.5" y2="267.7" stroke="#909090" stroke-width="1.0"/>
<text x="348.5" y="278" font-size="8.1" text-anchor="middle" font-weight="normal" fill="#1e1e1e" stroke="#1e1e1e" stroke-width="0.12">9</text>
<line x1="359.8" y1="264.4" x2="359.8" y2="267.7" stroke="#909090" stroke-width="1.0"/>
<text x="359.8" y="278" font-size="8.1" text-anchor="middle" font-weight="normal" fill="#1e1e1e" stroke="#1e1e1e" stroke-width="0.12">12</text>
<line x1="371.1" y1="264.4" x2="371.1" y2="267.7" stroke="#909090" stroke-width="1.0"/>
<text x="371.1" y="278" font-size="8.1" text-anchor="middle" font-weight="normal" fill="#1e1e1e" stroke="#1e1e1e" stroke-width="0.12">15</text>
<line x1="382.4" y1="264.4" x2="382.4" y2="267.7" stroke="#909090" stroke-width="1.0"/>
<text x="382.4" y="278" font-size="8.1" text-anchor="middle" font-weight="normal" fill="#1e1e1e" stroke="#1e1e1e" stroke-width="0.12">18</text>
<line x1="393.7" y1="264.4" x2="393.7" y2="267.7" stroke="#909090" stroke-width="1.0"/>
<text x="393.7" y="278" font-size="8.1" text-anchor="middle" font-weight="normal" fill="#1e1e1e" stroke="#1e1e1e" stroke-width="0.12">21</text>
<line x1="405" y1="264.4" x2="405" y2="267.7" stroke="#909090" stroke-width="1.0"/>
<text x="405" y="278" font-size="8.1" text-anchor="middle" font-weight="normal" fill="#1e1e1e" stroke="#1e1e1e" stroke-width="0.12">24</text>
<text x="359.8" y="290" font-size="8.4" text-anchor="middle" font-weight="normal" fill="#1e1e1e" stroke="#1e1e1e" stroke-width="0.12">ZT (h)</text>
<text x="290.5" y="219.4" font-size="8.8" text-anchor="middle" font-weight="normal" fill="#1e1e1e" stroke="#1e1e1e" stroke-width="0.12" transform="rotate(-90 290.5 219.4)">ΔUI/mouse/h</text>
<line x1="319.13" y1="242.1" x2="405" y2="242.1" stroke="#000" stroke-width="1.6" stroke-dasharray="1.6 3.73"/>
<line x1="316.48" y1="246.85" x2="316.48" y2="250.45" stroke="#f01010" stroke-width="0.6"/>
<line x1="315.38" y1="246.85" x2="317.58" y2="246.85" stroke="#f01010" stroke-width="0.6"/>
<line x1="315.38" y1="250.45" x2="317.58" y2="250.45" stroke="#f01010" stroke-width="0.6"/>
<line x1="320.25" y1="245.05" x2="320.25" y2="247.75" stroke="#f01010" stroke-width="0.6"/>
<line x1="319.15" y1="245.05" x2="321.35" y2="245.05" stroke="#f01010" stroke-width="0.6"/>
<line x1="319.15" y1="247.75" x2="321.35" y2="247.75" stroke="#f01010" stroke-width="0.6"/>
<line x1="324.02" y1="244.15" x2="324.02" y2="246.85" stroke="#f01010" stroke-width="0.6"/>
<line x1="322.92" y1="244.15" x2="325.12" y2="244.15" stroke="#f01010" stroke-width="0.6"/>
<line x1="322.92" y1="246.85" x2="325.12" y2="246.85" stroke="#f01010" stroke-width="0.6"/>
<line x1="327.78" y1="248.65" x2="327.78" y2="251.35" stroke="#f01010" stroke-width="0.6"/>
<line x1="326.68" y1="248.65" x2="328.88" y2="248.65" stroke="#f01010" stroke-width="0.6"/>
<line x1="326.68" y1="251.35" x2="328.88" y2="251.35" stroke="#f01010" stroke-width="0.6"/>
<line x1="331.55" y1="247.3" x2="331.55" y2="250" stroke="#f01010" stroke-width="0.6"/>
<line x1="330.45" y1="247.3" x2="332.65" y2="247.3" stroke="#f01010" stroke-width="0.6"/>
<line x1="330.45" y1="250" x2="332.65" y2="250" stroke="#f01010" stroke-width="0.6"/>
<line x1="335.32" y1="241.9" x2="335.32" y2="244.6" stroke="#f01010" stroke-width="0.6"/>
<line x1="334.22" y1="241.9" x2="336.42" y2="241.9" stroke="#f01010" stroke-width="0.6"/>
<line x1="334.22" y1="244.6" x2="336.42" y2="244.6" stroke="#f01010" stroke-width="0.6"/>
<line x1="339.08" y1="237.85" x2="339.08" y2="240.55" stroke="#f01010" stroke-width="0.6"/>
<line x1="337.98" y1="237.85" x2="340.18" y2="237.85" stroke="#f01010" stroke-width="0.6"/>
<line x1="337.98" y1="240.55" x2="340.18" y2="240.55" stroke="#f01010" stroke-width="0.6"/>
<line x1="342.85" y1="242.35" x2="342.85" y2="244.15" stroke="#f01010" stroke-width="0.6"/>
<line x1="341.75" y1="242.35" x2="343.95" y2="242.35" stroke="#f01010" stroke-width="0.6"/>
<line x1="341.75" y1="244.15" x2="343.95" y2="244.15" stroke="#f01010" stroke-width="0.6"/>
<line x1="346.62" y1="242.8" x2="346.62" y2="244.6" stroke="#f01010" stroke-width="0.6"/>
<line x1="345.52" y1="242.8" x2="347.72" y2="242.8" stroke="#f01010" stroke-width="0.6"/>
<line x1="345.52" y1="244.6" x2="347.72" y2="244.6" stroke="#f01010" stroke-width="0.6"/>
<line x1="350.38" y1="242.8" x2="350.38" y2="244.6" stroke="#f01010" stroke-width="0.6"/>
<line x1="349.28" y1="242.8" x2="351.48" y2="242.8" stroke="#f01010" stroke-width="0.6"/>
<line x1="349.28" y1="244.6" x2="351.48" y2="244.6" stroke="#f01010" stroke-width="0.6"/>
<line x1="354.15" y1="241.9" x2="354.15" y2="243.7" stroke="#f01010" stroke-width="0.6"/>
<line x1="353.05" y1="241.9" x2="355.25" y2="241.9" stroke="#f01010" stroke-width="0.6"/>
<line x1="353.05" y1="243.7" x2="355.25" y2="243.7" stroke="#f01010" stroke-width="0.6"/>
<line x1="357.92" y1="241.45" x2="357.92" y2="243.25" stroke="#f01010" stroke-width="0.6"/>
<line x1="356.82" y1="241.45" x2="359.02" y2="241.45" stroke="#f01010" stroke-width="0.6"/>
<line x1="356.82" y1="243.25" x2="359.02" y2="243.25" stroke="#f01010" stroke-width="0.6"/>
<line x1="361.68" y1="233.8" x2="361.68" y2="237.4" stroke="#f01010" stroke-width="0.6"/>
<line x1="360.58" y1="233.8" x2="362.78" y2="233.8" stroke="#f01010" stroke-width="0.6"/>
<line x1="360.58" y1="237.4" x2="362.78" y2="237.4" stroke="#f01010" stroke-width="0.6"/>
<line x1="365.45" y1="233.35" x2="365.45" y2="236.95" stroke="#f01010" stroke-width="0.6"/>
<line x1="364.35" y1="233.35" x2="366.55" y2="233.35" stroke="#f01010" stroke-width="0.6"/>
<line x1="364.35" y1="236.95" x2="366.55" y2="236.95" stroke="#f01010" stroke-width="0.6"/>
<line x1="369.22" y1="236.05" x2="369.22" y2="238.75" stroke="#f01010" stroke-width="0.6"/>
<line x1="368.12" y1="236.05" x2="370.32" y2="236.05" stroke="#f01010" stroke-width="0.6"/>
<line x1="368.12" y1="238.75" x2="370.32" y2="238.75" stroke="#f01010" stroke-width="0.6"/>
<line x1="372.98" y1="235.15" x2="372.98" y2="237.85" stroke="#f01010" stroke-width="0.6"/>
<line x1="371.88" y1="235.15" x2="374.08" y2="235.15" stroke="#f01010" stroke-width="0.6"/>
<line x1="371.88" y1="237.85" x2="374.08" y2="237.85" stroke="#f01010" stroke-width="0.6"/>
<line x1="376.75" y1="235.15" x2="376.75" y2="237.85" stroke="#f01010" stroke-width="0.6"/>
<line x1="375.65" y1="235.15" x2="377.85" y2="235.15" stroke="#f01010" stroke-width="0.6"/>
<line x1="375.65" y1="237.85" x2="377.85" y2="237.85" stroke="#f01010" stroke-width="0.6"/>
<line x1="380.52" y1="233.35" x2="380.52" y2="236.05" stroke="#f01010" stroke-width="0.6"/>
<line x1="379.42" y1="233.35" x2="381.62" y2="233.35" stroke="#f01010" stroke-width="0.6"/>
<line x1="379.42" y1="236.05" x2="381.62" y2="236.05" stroke="#f01010" stroke-width="0.6"/>
<line x1="384.28" y1="236.05" x2="384.28" y2="238.75" stroke="#f01010" stroke-width="0.6"/>
<line x1="383.18" y1="236.05" x2="385.38" y2="236.05" stroke="#f01010" stroke-width="0.6"/>
<line x1="383.18" y1="238.75" x2="385.38" y2="238.75" stroke="#f01010" stroke-width="0.6"/>
<line x1="388.05" y1="235.15" x2="388.05" y2="237.85" stroke="#f01010" stroke-width="0.6"/>
<line x1="386.95" y1="235.15" x2="389.15" y2="235.15" stroke="#f01010" stroke-width="0.6"/>
<line x1="386.95" y1="237.85" x2="389.15" y2="237.85" stroke="#f01010" stroke-width="0.6"/>
<line x1="391.82" y1="236.05" x2="391.82" y2="238.75" stroke="#f01010" stroke-width="0.6"/>
<line x1="390.72" y1="236.05" x2="392.92" y2="236.05" stroke="#f01010" stroke-width="0.6"/>
<line x1="390.72" y1="238.75" x2="392.92" y2="238.75" stroke="#f01010" stroke-width="0.6"/>
<line x1="395.58" y1="240.1" x2="395.58" y2="242.8" stroke="#f01010" stroke-width="0.6"/>
<line x1="394.48" y1="240.1" x2="396.68" y2="240.1" stroke="#f01010" stroke-width="0.6"/>
<line x1="394.48" y1="242.8" x2="396.68" y2="242.8" stroke="#f01010" stroke-width="0.6"/>
<line x1="399.35" y1="242.8" x2="399.35" y2="245.5" stroke="#f01010" stroke-width="0.6"/>
<line x1="398.25" y1="242.8" x2="400.45" y2="242.8" stroke="#f01010" stroke-width="0.6"/>
<line x1="398.25" y1="245.5" x2="400.45" y2="245.5" stroke="#f01010" stroke-width="0.6"/>
<line x1="403.12" y1="227.5" x2="403.12" y2="232.9" stroke="#f01010" stroke-width="0.6"/>
<line x1="402.02" y1="227.5" x2="404.22" y2="227.5" stroke="#f01010" stroke-width="0.6"/>
<line x1="402.02" y1="232.9" x2="404.22" y2="232.9" stroke="#f01010" stroke-width="0.6"/>
<polyline points="316.48,248.65 320.25,246.4 324.02,245.5 327.78,250 331.55,248.65 335.32,243.25 339.08,239.2 342.85,243.25 346.62,243.7 350.38,243.7 354.15,242.8 357.92,242.35 361.68,235.6 365.45,235.15 369.22,237.4 372.98,236.5 376.75,236.5 380.52,234.7 384.28,237.4 388.05,236.5 391.82,237.4 395.58,241.45 399.35,244.15 403.12,230.2" fill="none" stroke="#f01010" stroke-width="0.7"/>
<circle cx="316.48" cy="248.65" r="2.0" fill="#f01010"/>
<circle cx="320.25" cy="246.4" r="2.0" fill="#f01010"/>
<circle cx="324.02" cy="245.5" r="2.0" fill="#f01010"/>
<circle cx="327.78" cy="250" r="2.0" fill="#f01010"/>
<circle cx="331.55" cy="248.65" r="2.0" fill="#f01010"/>
<circle cx="335.32" cy="243.25" r="2.0" fill="#f01010"/>
<circle cx="339.08" cy="239.2" r="2.0" fill="#f01010"/>
<circle cx="342.85" cy="243.25" r="2.0" fill="#f01010"/>
<circle cx="346.62" cy="243.7" r="2.0" fill="#f01010"/>
<circle cx="350.38" cy="243.7" r="2.0" fill="#f01010"/>
<circle cx="354.15" cy="242.8" r="2.0" fill="#f01010"/>
<circle cx="357.92" cy="242.35" r="2.0" fill="#f01010"/>
<circle cx="361.68" cy="235.6" r="2.0" fill="#f01010"/>
<circle cx="365.45" cy="235.15" r="2.0" fill="#f01010"/>
<circle cx="369.22" cy="237.4" r="2.0" fill="#f01010"/>
<circle cx="372.98" cy="236.5" r="2.0" fill="#f01010"/>
<circle cx="376.75" cy="236.5" r="2.0" fill="#f01010"/>
<circle cx="380.52" cy="234.7" r="2.0" fill="#f01010"/>
<circle cx="384.28" cy="237.4" r="2.0" fill="#f01010"/>
<circle cx="388.05" cy="236.5" r="2.0" fill="#f01010"/>
<circle cx="391.82" cy="237.4" r="2.0" fill="#f01010"/>
<circle cx="395.58" cy="241.45" r="2.0" fill="#f01010"/>
<circle cx="399.35" cy="244.15" r="2.0" fill="#f01010"/>
<circle cx="403.12" cy="230.2" r="2.0" fill="#f01010"/>
<line x1="316.48" y1="242.35" x2="316.48" y2="245.95" stroke="#5aa6f2" stroke-width="0.6"/>
<line x1="315.38" y1="242.35" x2="317.58" y2="242.35" stroke="#5aa6f2" stroke-width="0.6"/>
<line x1="315.38" y1="245.95" x2="317.58" y2="245.95" stroke="#5aa6f2" stroke-width="0.6"/>
<line x1="320.25" y1="245.5" x2="320.25" y2="249.1" stroke="#5aa6f2" stroke-width="0.6"/>
<line x1="319.15" y1="245.5" x2="321.35" y2="245.5" stroke="#5aa6f2" stroke-width="0.6"/>
<line x1="319.15" y1="249.1" x2="321.35" y2="249.1" stroke="#5aa6f2" stroke-width="0.6"/>
<line x1="324.02" y1="245.95" x2="324.02" y2="249.55" stroke="#5aa6f2" stroke-width="0.6"/>
<line x1="322.92" y1="245.95" x2="325.12" y2="245.95" stroke="#5aa6f2" stroke-width="0.6"/>
<line x1="322.92" y1="249.55" x2="325.12" y2="249.55" stroke="#5aa6f2" stroke-width="0.6"/>
<line x1="327.78" y1="250.45" x2="327.78" y2="253.15" stroke="#5aa6f2" stroke-width="0.6"/>
<line x1="326.68" y1="250.45" x2="328.88" y2="250.45" stroke="#5aa6f2" stroke-width="0.6"/>
<line x1="326.68" y1="253.15" x2="328.88" y2="253.15" stroke="#5aa6f2" stroke-width="0.6"/>
<line x1="331.55" y1="250.45" x2="331.55" y2="253.15" stroke="#5aa6f2" stroke-width="0.6"/>
<line x1="330.45" y1="250.45" x2="332.65" y2="250.45" stroke="#5aa6f2" stroke-width="0.6"/>
<line x1="330.45" y1="253.15" x2="332.65" y2="253.15" stroke="#5aa6f2" stroke-width="0.6"/>
<line x1="335.32" y1="238.75" x2="335.32" y2="242.35" stroke="#5aa6f2" stroke-width="0.6"/>
<line x1="334.22" y1="238.75" x2="336.42" y2="238.75" stroke="#5aa6f2" stroke-width="0.6"/>
<line x1="334.22" y1="242.35" x2="336.42" y2="242.35" stroke="#5aa6f2" stroke-width="0.6"/>
<line x1="339.08" y1="231.55" x2="339.08" y2="238.75" stroke="#5aa6f2" stroke-width="0.6"/>
<line x1="337.98" y1="231.55" x2="340.18" y2="231.55" stroke="#5aa6f2" stroke-width="0.6"/>
<line x1="337.98" y1="238.75" x2="340.18" y2="238.75" stroke="#5aa6f2" stroke-width="0.6"/>
<line x1="342.85" y1="245.05" x2="342.85" y2="247.75" stroke="#5aa6f2" stroke-width="0.6"/>
<line x1="341.75" y1="245.05" x2="343.95" y2="245.05" stroke="#5aa6f2" stroke-width="0.6"/>
<line x1="341.75" y1="247.75" x2="343.95" y2="247.75" stroke="#5aa6f2" stroke-width="0.6"/>
<line x1="346.62" y1="243.25" x2="346.62" y2="245.05" stroke="#5aa6f2" stroke-width="0.6"/>
<line x1="345.52" y1="243.25" x2="347.72" y2="243.25" stroke="#5aa6f2" stroke-width="0.6"/>
<line x1="345.52" y1="245.05" x2="347.72" y2="245.05" stroke="#5aa6f2" stroke-width="0.6"/>
<line x1="350.38" y1="243.25" x2="350.38" y2="245.05" stroke="#5aa6f2" stroke-width="0.6"/>
<line x1="349.28" y1="243.25" x2="351.48" y2="243.25" stroke="#5aa6f2" stroke-width="0.6"/>
<line x1="349.28" y1="245.05" x2="351.48" y2="245.05" stroke="#5aa6f2" stroke-width="0.6"/>
<line x1="354.15" y1="239.65" x2="354.15" y2="241.45" stroke="#5aa6f2" stroke-width="0.6"/>
<line x1="353.05" y1="239.65" x2="355.25" y2="239.65" stroke="#5aa6f2" stroke-width="0.6"/>
<line x1="353.05" y1="241.45" x2="355.25" y2="241.45" stroke="#5aa6f2" stroke-width="0.6"/>
<line x1="357.92" y1="240.1" x2="357.92" y2="241.9" stroke="#5aa6f2" stroke-width="0.6"/>
<line x1="356.82" y1="240.1" x2="359.02" y2="240.1" stroke="#5aa6f2" stroke-width="0.6"/>
<line x1="356.82" y1="241.9" x2="359.02" y2="241.9" stroke="#5aa6f2" stroke-width="0.6"/>
<line x1="361.68" y1="235.15" x2="361.68" y2="238.75" stroke="#5aa6f2" stroke-width="0.6"/>
<line x1="360.58" y1="235.15" x2="362.78" y2="235.15" stroke="#5aa6f2" stroke-width="0.6"/>
<line x1="360.58" y1="238.75" x2="362.78" y2="238.75" stroke="#5aa6f2" stroke-width="0.6"/>
<line x1="365.45" y1="230.65" x2="365.45" y2="239.65" stroke="#5aa6f2" stroke-width="0.6"/>
<line x1="364.35" y1="230.65" x2="366.55" y2="230.65" stroke="#5aa6f2" stroke-width="0.6"/>
<line x1="364.35" y1="239.65" x2="366.55" y2="239.65" stroke="#5aa6f2" stroke-width="0.6"/>
<line x1="369.22" y1="236.95" x2="369.22" y2="239.65" stroke="#5aa6f2" stroke-width="0.6"/>
<line x1="368.12" y1="236.95" x2="370.32" y2="236.95" stroke="#5aa6f2" stroke-width="0.6"/>
<line x1="368.12" y1="239.65" x2="370.32" y2="239.65" stroke="#5aa6f2" stroke-width="0.6"/>
<line x1="372.98" y1="235.15" x2="372.98" y2="237.85" stroke="#5aa6f2" stroke-width="0.6"/>
<line x1="371.88" y1="235.15" x2="374.08" y2="235.15" stroke="#5aa6f2" stroke-width="0.6"/>
<line x1="371.88" y1="237.85" x2="374.08" y2="237.85" stroke="#5aa6f2" stroke-width="0.6"/>
<line x1="376.75" y1="227.05" x2="376.75" y2="232.45" stroke="#5aa6f2" stroke-width="0.6"/>
<line x1="375.65" y1="227.05" x2="377.85" y2="227.05" stroke="#5aa6f2" stroke-width="0.6"/>
<line x1="375.65" y1="232.45" x2="377.85" y2="232.45" stroke="#5aa6f2" stroke-width="0.6"/>
<line x1="380.52" y1="228.85" x2="380.52" y2="232.45" stroke="#5aa6f2" stroke-width="0.6"/>
<line x1="379.42" y1="228.85" x2="381.62" y2="228.85" stroke="#5aa6f2" stroke-width="0.6"/>
<line x1="379.42" y1="232.45" x2="381.62" y2="232.45" stroke="#5aa6f2" stroke-width="0.6"/>
<line x1="384.28" y1="235.15" x2="384.28" y2="237.85" stroke="#5aa6f2" stroke-width="0.6"/>
<line x1="383.18" y1="235.15" x2="385.38" y2="235.15" stroke="#5aa6f2" stroke-width="0.6"/>
<line x1="383.18" y1="237.85" x2="385.38" y2="237.85" stroke="#5aa6f2" stroke-width="0.6"/>
<line x1="388.05" y1="238.75" x2="388.05" y2="241.45" stroke="#5aa6f2" stroke-width="0.6"/>
<line x1="386.95" y1="238.75" x2="389.15" y2="238.75" stroke="#5aa6f2" stroke-width="0.6"/>
<line x1="386.95" y1="241.45" x2="389.15" y2="241.45" stroke="#5aa6f2" stroke-width="0.6"/>
<line x1="391.82" y1="239.2" x2="391.82" y2="241.9" stroke="#5aa6f2" stroke-width="0.6"/>
<line x1="390.72" y1="239.2" x2="392.92" y2="239.2" stroke="#5aa6f2" stroke-width="0.6"/>
<line x1="390.72" y1="241.9" x2="392.92" y2="241.9" stroke="#5aa6f2" stroke-width="0.6"/>
<line x1="395.58" y1="238.3" x2="395.58" y2="241" stroke="#5aa6f2" stroke-width="0.6"/>
<line x1="394.48" y1="238.3" x2="396.68" y2="238.3" stroke="#5aa6f2" stroke-width="0.6"/>
<line x1="394.48" y1="241" x2="396.68" y2="241" stroke="#5aa6f2" stroke-width="0.6"/>
<line x1="399.35" y1="243.25" x2="399.35" y2="249.55" stroke="#5aa6f2" stroke-width="0.6"/>
<line x1="398.25" y1="243.25" x2="400.45" y2="243.25" stroke="#5aa6f2" stroke-width="0.6"/>
<line x1="398.25" y1="249.55" x2="400.45" y2="249.55" stroke="#5aa6f2" stroke-width="0.6"/>
<line x1="403.12" y1="228.85" x2="403.12" y2="233.35" stroke="#5aa6f2" stroke-width="0.6"/>
<line x1="402.02" y1="228.85" x2="404.22" y2="228.85" stroke="#5aa6f2" stroke-width="0.6"/>
<line x1="402.02" y1="233.35" x2="404.22" y2="233.35" stroke="#5aa6f2" stroke-width="0.6"/>
<polyline points="316.48,244.15 320.25,247.3 324.02,247.75 327.78,251.8 331.55,251.8 335.32,240.55 339.08,235.15 342.85,246.4 346.62,244.15 350.38,244.15 354.15,240.55 357.92,241 361.68,236.95 365.45,235.15 369.22,238.3 372.98,236.5 376.75,229.75 380.52,230.65 384.28,236.5 388.05,240.1 391.82,240.55 395.58,239.65 399.35,246.4 403.12,231.1" fill="none" stroke="#5aa6f2" stroke-width="0.7"/>
<circle cx="316.48" cy="244.15" r="2.0" fill="#5aa6f2"/>
<circle cx="320.25" cy="247.3" r="2.0" fill="#5aa6f2"/>
<circle cx="324.02" cy="247.75" r="2.0" fill="#5aa6f2"/>
<circle cx="327.78" cy="251.8" r="2.0" fill="#5aa6f2"/>
<circle cx="331.55" cy="251.8" r="2.0" fill="#5aa6f2"/>
<circle cx="335.32" cy="240.55" r="2.0" fill="#5aa6f2"/>
<circle cx="339.08" cy="235.15" r="2.0" fill="#5aa6f2"/>
<circle cx="342.85" cy="246.4" r="2.0" fill="#5aa6f2"/>
<circle cx="346.62" cy="244.15" r="2.0" fill="#5aa6f2"/>
<circle cx="350.38" cy="244.15" r="2.0" fill="#5aa6f2"/>
<circle cx="354.15" cy="240.55" r="2.0" fill="#5aa6f2"/>
<circle cx="357.92" cy="241" r="2.0" fill="#5aa6f2"/>
<circle cx="361.68" cy="236.95" r="2.0" fill="#5aa6f2"/>
<circle cx="365.45" cy="235.15" r="2.0" fill="#5aa6f2"/>
<circle cx="369.22" cy="238.3" r="2.0" fill="#5aa6f2"/>
<circle cx="372.98" cy="236.5" r="2.0" fill="#5aa6f2"/>
<circle cx="376.75" cy="229.75" r="2.0" fill="#5aa6f2"/>
<circle cx="380.52" cy="230.65" r="2.0" fill="#5aa6f2"/>
<circle cx="384.28" cy="236.5" r="2.0" fill="#5aa6f2"/>
<circle cx="388.05" cy="240.1" r="2.0" fill="#5aa6f2"/>
<circle cx="391.82" cy="240.55" r="2.0" fill="#5aa6f2"/>
<circle cx="395.58" cy="239.65" r="2.0" fill="#5aa6f2"/>
<circle cx="399.35" cy="246.4" r="2.0" fill="#5aa6f2"/>
<circle cx="403.12" cy="231.1" r="2.0" fill="#5aa6f2"/>
<polyline points="316.48,242.8 320.25,245.05 324.02,242.8 327.78,250.9 331.55,249.1 335.32,247.3 339.08,240.55 342.85,242.35 346.62,245.5 350.38,245.05 354.15,242.8 357.92,241.9 361.68,234.7 365.45,236.05 369.22,238.3 372.98,237.4 376.75,237.4 380.52,238.3 384.28,238.75 388.05,236.95 391.82,237.85 395.58,242.8 399.35,241.9 403.12,237.4" fill="none" stroke="#000000" stroke-width="0.7"/>
<circle cx="316.48" cy="242.8" r="2.0" fill="#000000"/>
<circle cx="320.25" cy="245.05" r="2.0" fill="#000000"/>
<circle cx="324.02" cy="242.8" r="2.0" fill="#000000"/>
<circle cx="327.78" cy="250.9" r="2.0" fill="#000000"/>
<circle cx="331.55" cy="249.1" r="2.0" fill="#000000"/>
<circle cx="335.32" cy="247.3" r="2.0" fill="#000000"/>
<circle cx="339.08" cy="240.55" r="2.0" fill="#000000"/>
<circle cx="342.85" cy="242.35" r="2.0" fill="#000000"/>
<circle cx="346.62" cy="245.5" r="2.0" fill="#000000"/>
<circle cx="350.38" cy="245.05" r="2.0" fill="#000000"/>
<circle cx="354.15" cy="242.8" r="2.0" fill="#000000"/>
<circle cx="357.92" cy="241.9" r="2.0" fill="#000000"/>
<circle cx="361.68" cy="234.7" r="2.0" fill="#000000"/>
<circle cx="365.45" cy="236.05" r="2.0" fill="#000000"/>
<circle cx="369.22" cy="238.3" r="2.0" fill="#000000"/>
<circle cx="372.98" cy="237.4" r="2.0" fill="#000000"/>
<circle cx="376.75" cy="237.4" r="2.0" fill="#000000"/>
<circle cx="380.52" cy="238.3" r="2.0" fill="#000000"/>
<circle cx="384.28" cy="238.75" r="2.0" fill="#000000"/>
<circle cx="388.05" cy="236.95" r="2.0" fill="#000000"/>
<circle cx="391.82" cy="237.85" r="2.0" fill="#000000"/>
<circle cx="395.58" cy="242.8" r="2.0" fill="#000000"/>
<circle cx="399.35" cy="241.9" r="2.0" fill="#000000"/>
<circle cx="403.12" cy="237.4" r="2.0" fill="#000000"/>
<rect x="498.15" y="174.4" width="45.65" height="90" fill="#dedede"/>
<line x1="453" y1="174.4" x2="453" y2="264.4" stroke="#909090" stroke-width="1.0"/>
<line x1="450" y1="174.4" x2="453" y2="174.4" stroke="#909090" stroke-width="1.0"/>
<text x="447.1" y="177.2" font-size="8.1" text-anchor="end" font-weight="normal" fill="#1e1e1e" stroke="#1e1e1e" stroke-width="0.12">1.5</text>
<line x1="450" y1="196.9" x2="453" y2="196.9" stroke="#909090" stroke-width="1.0"/>
<text x="447.1" y="199.7" font-size="8.1" text-anchor="end" font-weight="normal" fill="#1e1e1e" stroke="#1e1e1e" stroke-width="0.12">1.0</text>
<line x1="450" y1="219.4" x2="453" y2="219.4" stroke="#909090" stroke-width="1.0"/>
<text x="447.1" y="222.2" font-size="8.1" text-anchor="end" font-weight="normal" fill="#1e1e1e" stroke="#1e1e1e" stroke-width="0.12">0.5</text>
<line x1="450" y1="241.9" x2="453" y2="241.9" stroke="#909090" stroke-width="1.0"/>
<text x="447.1" y="244.7" font-size="8.1" text-anchor="end" font-weight="normal" fill="#1e1e1e" stroke="#1e1e1e" stroke-width="0.12">0</text>
<line x1="450" y1="264.4" x2="453" y2="264.4" stroke="#909090" stroke-width="1.0"/>
<text x="447.1" y="267.2" font-size="8.1" text-anchor="end" font-weight="normal" fill="#1e1e1e" stroke="#1e1e1e" stroke-width="0.12">−0.5</text>
<line x1="453" y1="264.4" x2="543.3" y2="264.4" stroke="#909090" stroke-width="1.0"/>
<line x1="453" y1="264.4" x2="453" y2="267.7" stroke="#909090" stroke-width="1.0"/>
<text x="453" y="278" font-size="8.1" text-anchor="middle" font-weight="normal" fill="#1e1e1e" stroke="#1e1e1e" stroke-width="0.12">0</text>
<line x1="464.29" y1="264.4" x2="464.29" y2="267.7" stroke="#909090" stroke-width="1.0"/>
<text x="464.29" y="278" font-size="8.1" text-anchor="middle" font-weight="normal" fill="#1e1e1e" stroke="#1e1e1e" stroke-width="0.12">3</text>
<line x1="475.57" y1="264.4" x2="475.57" y2="267.7" stroke="#909090" stroke-width="1.0"/>
<text x="475.57" y="278" font-size="8.1" text-anchor="middle" font-weight="normal" fill="#1e1e1e" stroke="#1e1e1e" stroke-width="0.12">6</text>
<line x1="486.86" y1="264.4" x2="486.86" y2="267.7" stroke="#909090" stroke-width="1.0"/>
<text x="486.86" y="278" font-size="8.1" text-anchor="middle" font-weight="normal" fill="#1e1e1e" stroke="#1e1e1e" stroke-width="0.12">9</text>
<line x1="498.15" y1="264.4" x2="498.15" y2="267.7" stroke="#909090" stroke-width="1.0"/>
<text x="498.15" y="278" font-size="8.1" text-anchor="middle" font-weight="normal" fill="#1e1e1e" stroke="#1e1e1e" stroke-width="0.12">12</text>
<line x1="509.44" y1="264.4" x2="509.44" y2="267.7" stroke="#909090" stroke-width="1.0"/>
<text x="509.44" y="278" font-size="8.1" text-anchor="middle" font-weight="normal" fill="#1e1e1e" stroke="#1e1e1e" stroke-width="0.12">15</text>
<line x1="520.72" y1="264.4" x2="520.72" y2="267.7" stroke="#909090" stroke-width="1.0"/>
<text x="520.72" y="278" font-size="8.1" text-anchor="middle" font-weight="normal" fill="#1e1e1e" stroke="#1e1e1e" stroke-width="0.12">18</text>
<line x1="532.01" y1="264.4" x2="532.01" y2="267.7" stroke="#909090" stroke-width="1.0"/>
<text x="532.01" y="278" font-size="8.1" text-anchor="middle" font-weight="normal" fill="#1e1e1e" stroke="#1e1e1e" stroke-width="0.12">21</text>
<line x1="543.3" y1="264.4" x2="543.3" y2="267.7" stroke="#909090" stroke-width="1.0"/>
<text x="543.3" y="278" font-size="8.1" text-anchor="middle" font-weight="normal" fill="#1e1e1e" stroke="#1e1e1e" stroke-width="0.12">24</text>
<text x="498.15" y="290" font-size="8.4" text-anchor="middle" font-weight="normal" fill="#1e1e1e" stroke="#1e1e1e" stroke-width="0.12">ZT (h)</text>
<text x="427.5" y="219.4" font-size="8.8" text-anchor="middle" font-weight="normal" fill="#1e1e1e" stroke="#1e1e1e" stroke-width="0.12" transform="rotate(-90 427.5 219.4)">ΔUI/mouse/h</text>
<line x1="457.53" y1="242.1" x2="543.3" y2="242.1" stroke="#000" stroke-width="1.6" stroke-dasharray="1.6 3.73"/>
<line x1="454.88" y1="227.5" x2="454.88" y2="232" stroke="#f01010" stroke-width="0.6"/>
<line x1="453.78" y1="227.5" x2="455.98" y2="227.5" stroke="#f01010" stroke-width="0.6"/>
<line x1="453.78" y1="232" x2="455.98" y2="232" stroke="#f01010" stroke-width="0.6"/>
<line x1="458.64" y1="226.6" x2="458.64" y2="234.7" stroke="#f01010" stroke-width="0.6"/>
<line x1="457.54" y1="226.6" x2="459.74" y2="226.6" stroke="#f01010" stroke-width="0.6"/>
<line x1="457.54" y1="234.7" x2="459.74" y2="234.7" stroke="#f01010" stroke-width="0.6"/>
<line x1="462.41" y1="228.4" x2="462.41" y2="235.6" stroke="#f01010" stroke-width="0.6"/>
<line x1="461.31" y1="228.4" x2="463.51" y2="228.4" stroke="#f01010" stroke-width="0.6"/>
<line x1="461.31" y1="235.6" x2="463.51" y2="235.6" stroke="#f01010" stroke-width="0.6"/>
<line x1="466.17" y1="233.8" x2="466.17" y2="239.2" stroke="#f01010" stroke-width="0.6"/>
<line x1="465.07" y1="233.8" x2="467.27" y2="233.8" stroke="#f01010" stroke-width="0.6"/>
<line x1="465.07" y1="239.2" x2="467.27" y2="239.2" stroke="#f01010" stroke-width="0.6"/>
<line x1="469.93" y1="243.25" x2="469.93" y2="245.05" stroke="#f01010" stroke-width="0.6"/>
<line x1="468.83" y1="243.25" x2="471.03" y2="243.25" stroke="#f01010" stroke-width="0.6"/>
<line x1="468.83" y1="245.05" x2="471.03" y2="245.05" stroke="#f01010" stroke-width="0.6"/>
<line x1="473.69" y1="243.7" x2="473.69" y2="245.5" stroke="#f01010" stroke-width="0.6"/>
<line x1="472.59" y1="243.7" x2="474.79" y2="243.7" stroke="#f01010" stroke-width="0.6"/>
<line x1="472.59" y1="245.5" x2="474.79" y2="245.5" stroke="#f01010" stroke-width="0.6"/>
<line x1="477.46" y1="245.5" x2="477.46" y2="247.3" stroke="#f01010" stroke-width="0.6"/>
<line x1="476.36" y1="245.5" x2="478.56" y2="245.5" stroke="#f01010" stroke-width="0.6"/>
<line x1="476.36" y1="247.3" x2="478.56" y2="247.3" stroke="#f01010" stroke-width="0.6"/>
<line x1="481.22" y1="245.05" x2="481.22" y2="246.85" stroke="#f01010" stroke-width="0.6"/>
<line x1="480.12" y1="245.05" x2="482.32" y2="245.05" stroke="#f01010" stroke-width="0.6"/>
<line x1="480.12" y1="246.85" x2="482.32" y2="246.85" stroke="#f01010" stroke-width="0.6"/>
<line x1="484.98" y1="244.6" x2="484.98" y2="246.4" stroke="#f01010" stroke-width="0.6"/>
<line x1="483.88" y1="244.6" x2="486.08" y2="244.6" stroke="#f01010" stroke-width="0.6"/>
<line x1="483.88" y1="246.4" x2="486.08" y2="246.4" stroke="#f01010" stroke-width="0.6"/>
<line x1="488.74" y1="243.7" x2="488.74" y2="245.5" stroke="#f01010" stroke-width="0.6"/>
<line x1="487.64" y1="243.7" x2="489.84" y2="243.7" stroke="#f01010" stroke-width="0.6"/>
<line x1="487.64" y1="245.5" x2="489.84" y2="245.5" stroke="#f01010" stroke-width="0.6"/>
<line x1="492.51" y1="242.8" x2="492.51" y2="244.6" stroke="#f01010" stroke-width="0.6"/>
<line x1="491.41" y1="242.8" x2="493.61" y2="242.8" stroke="#f01010" stroke-width="0.6"/>
<line x1="491.41" y1="244.6" x2="493.61" y2="244.6" stroke="#f01010" stroke-width="0.6"/>
<line x1="496.27" y1="233.35" x2="496.27" y2="237.85" stroke="#f01010" stroke-width="0.6"/>
<line x1="495.17" y1="233.35" x2="497.37" y2="233.35" stroke="#f01010" stroke-width="0.6"/>
<line x1="495.17" y1="237.85" x2="497.37" y2="237.85" stroke="#f01010" stroke-width="0.6"/>
<line x1="500.03" y1="205.45" x2="500.03" y2="210.85" stroke="#f01010" stroke-width="0.6"/>
<line x1="498.93" y1="205.45" x2="501.13" y2="205.45" stroke="#f01010" stroke-width="0.6"/>
<line x1="498.93" y1="210.85" x2="501.13" y2="210.85" stroke="#f01010" stroke-width="0.6"/>
<line x1="503.79" y1="205.9" x2="503.79" y2="210.4" stroke="#f01010" stroke-width="0.6"/>
<line x1="502.69" y1="205.9" x2="504.89" y2="205.9" stroke="#f01010" stroke-width="0.6"/>
<line x1="502.69" y1="210.4" x2="504.89" y2="210.4" stroke="#f01010" stroke-width="0.6"/>
<line x1="507.56" y1="209.5" x2="507.56" y2="214" stroke="#f01010" stroke-width="0.6"/>
<line x1="506.46" y1="209.5" x2="508.66" y2="209.5" stroke="#f01010" stroke-width="0.6"/>
<line x1="506.46" y1="214" x2="508.66" y2="214" stroke="#f01010" stroke-width="0.6"/>
<line x1="511.32" y1="212.2" x2="511.32" y2="215.8" stroke="#f01010" stroke-width="0.6"/>
<line x1="510.22" y1="212.2" x2="512.42" y2="212.2" stroke="#f01010" stroke-width="0.6"/>
<line x1="510.22" y1="215.8" x2="512.42" y2="215.8" stroke="#f01010" stroke-width="0.6"/>
<line x1="515.08" y1="205.9" x2="515.08" y2="210.4" stroke="#f01010" stroke-width="0.6"/>
<line x1="513.98" y1="205.9" x2="516.18" y2="205.9" stroke="#f01010" stroke-width="0.6"/>
<line x1="513.98" y1="210.4" x2="516.18" y2="210.4" stroke="#f01010" stroke-width="0.6"/>
<line x1="518.84" y1="203.65" x2="518.84" y2="208.15" stroke="#f01010" stroke-width="0.6"/>
<line x1="517.74" y1="203.65" x2="519.94" y2="203.65" stroke="#f01010" stroke-width="0.6"/>
<line x1="517.74" y1="208.15" x2="519.94" y2="208.15" stroke="#f01010" stroke-width="0.6"/>
<line x1="522.61" y1="208.6" x2="522.61" y2="212.2" stroke="#f01010" stroke-width="0.6"/>
<line x1="521.51" y1="208.6" x2="523.71" y2="208.6" stroke="#f01010" stroke-width="0.6"/>
<line x1="521.51" y1="212.2" x2="523.71" y2="212.2" stroke="#f01010" stroke-width="0.6"/>
<line x1="526.37" y1="208.6" x2="526.37" y2="213.1" stroke="#f01010" stroke-width="0.6"/>
<line x1="525.27" y1="208.6" x2="527.47" y2="208.6" stroke="#f01010" stroke-width="0.6"/>
<line x1="525.27" y1="213.1" x2="527.47" y2="213.1" stroke="#f01010" stroke-width="0.6"/>
<line x1="530.13" y1="223" x2="530.13" y2="227.5" stroke="#f01010" stroke-width="0.6"/>
<line x1="529.03" y1="223" x2="531.23" y2="223" stroke="#f01010" stroke-width="0.6"/>
<line x1="529.03" y1="227.5" x2="531.23" y2="227.5" stroke="#f01010" stroke-width="0.6"/>
<line x1="533.89" y1="235.15" x2="533.89" y2="239.65" stroke="#f01010" stroke-width="0.6"/>
<line x1="532.79" y1="235.15" x2="534.99" y2="235.15" stroke="#f01010" stroke-width="0.6"/>
<line x1="532.79" y1="239.65" x2="534.99" y2="239.65" stroke="#f01010" stroke-width="0.6"/>
<line x1="537.66" y1="233.8" x2="537.66" y2="238.3" stroke="#f01010" stroke-width="0.6"/>
<line x1="536.56" y1="233.8" x2="538.76" y2="233.8" stroke="#f01010" stroke-width="0.6"/>
<line x1="536.56" y1="238.3" x2="538.76" y2="238.3" stroke="#f01010" stroke-width="0.6"/>
<line x1="541.42" y1="217.6" x2="541.42" y2="222.1" stroke="#f01010" stroke-width="0.6"/>
<line x1="540.32" y1="217.6" x2="542.52" y2="217.6" stroke="#f01010" stroke-width="0.6"/>
<line x1="540.32" y1="222.1" x2="542.52" y2="222.1" stroke="#f01010" stroke-width="0.6"/>
<polyline points="454.88,229.75 458.64,230.65 462.41,232 466.17,236.5 469.93,244.15 473.69,244.6 477.46,246.4 481.22,245.95 484.98,245.5 488.74,244.6 492.51,243.7 496.27,235.6 500.03,208.15 503.79,208.15 507.56,211.75 511.32,214 515.08,208.15 518.84,205.9 522.61,210.4 526.37,210.85 530.13,225.25 533.89,237.4 537.66,236.05 541.42,219.85" fill="none" stroke="#f01010" stroke-width="0.7"/>
<circle cx="454.88" cy="229.75" r="2.0" fill="#f01010"/>
<circle cx="458.64" cy="230.65" r="2.0" fill="#f01010"/>
<circle cx="462.41" cy="232" r="2.0" fill="#f01010"/>
<circle cx="466.17" cy="236.5" r="2.0" fill="#f01010"/>
<circle cx="469.93" cy="244.15" r="2.0" fill="#f01010"/>
<circle cx="473.69" cy="244.6" r="2.0" fill="#f01010"/>
<circle cx="477.46" cy="246.4" r="2.0" fill="#f01010"/>
<circle cx="481.22" cy="245.95" r="2.0" fill="#f01010"/>
<circle cx="484.98" cy="245.5" r="2.0" fill="#f01010"/>
<circle cx="488.74" cy="244.6" r="2.0" fill="#f01010"/>
<circle cx="492.51" cy="243.7" r="2.0" fill="#f01010"/>
<circle cx="496.27" cy="235.6" r="2.0" fill="#f01010"/>
<circle cx="500.03" cy="208.15" r="2.0" fill="#f01010"/>
<circle cx="503.79" cy="208.15" r="2.0" fill="#f01010"/>
<circle cx="507.56" cy="211.75" r="2.0" fill="#f01010"/>
<circle cx="511.32" cy="214" r="2.0" fill="#f01010"/>
<circle cx="515.08" cy="208.15" r="2.0" fill="#f01010"/>
<circle cx="518.84" cy="205.9" r="2.0" fill="#f01010"/>
<circle cx="522.61" cy="210.4" r="2.0" fill="#f01010"/>
<circle cx="526.37" cy="210.85" r="2.0" fill="#f01010"/>
<circle cx="530.13" cy="225.25" r="2.0" fill="#f01010"/>
<circle cx="533.89" cy="237.4" r="2.0" fill="#f01010"/>
<circle cx="537.66" cy="236.05" r="2.0" fill="#f01010"/>
<circle cx="541.42" cy="219.85" r="2.0" fill="#f01010"/>
<line x1="454.88" y1="230.2" x2="454.88" y2="233.8" stroke="#5aa6f2" stroke-width="0.6"/>
<line x1="453.78" y1="230.2" x2="455.98" y2="230.2" stroke="#5aa6f2" stroke-width="0.6"/>
<line x1="453.78" y1="233.8" x2="455.98" y2="233.8" stroke="#5aa6f2" stroke-width="0.6"/>
<line x1="458.64" y1="235.6" x2="458.64" y2="238.3" stroke="#5aa6f2" stroke-width="0.6"/>
<line x1="457.54" y1="235.6" x2="459.74" y2="235.6" stroke="#5aa6f2" stroke-width="0.6"/>
<line x1="457.54" y1="238.3" x2="459.74" y2="238.3" stroke="#5aa6f2" stroke-width="0.6"/>
<line x1="462.41" y1="235.6" x2="462.41" y2="238.3" stroke="#5aa6f2" stroke-width="0.6"/>
<line x1="461.31" y1="235.6" x2="463.51" y2="235.6" stroke="#5aa6f2" stroke-width="0.6"/>
<line x1="461.31" y1="238.3" x2="463.51" y2="238.3" stroke="#5aa6f2" stroke-width="0.6"/>
<line x1="466.17" y1="240.1" x2="466.17" y2="242.8" stroke="#5aa6f2" stroke-width="0.6"/>
<line x1="465.07" y1="240.1" x2="467.27" y2="240.1" stroke="#5aa6f2" stroke-width="0.6"/>
<line x1="465.07" y1="242.8" x2="467.27" y2="242.8" stroke="#5aa6f2" stroke-width="0.6"/>
<line x1="469.93" y1="244.6" x2="469.93" y2="246.4" stroke="#5aa6f2" stroke-width="0.6"/>
<line x1="468.83" y1="244.6" x2="471.03" y2="244.6" stroke="#5aa6f2" stroke-width="0.6"/>
<line x1="468.83" y1="246.4" x2="471.03" y2="246.4" stroke="#5aa6f2" stroke-width="0.6"/>
<line x1="473.69" y1="245.05" x2="473.69" y2="246.85" stroke="#5aa6f2" stroke-width="0.6"/>
<line x1="472.59" y1="245.05" x2="474.79" y2="245.05" stroke="#5aa6f2" stroke-width="0.6"/>
<line x1="472.59" y1="246.85" x2="474.79" y2="246.85" stroke="#5aa6f2" stroke-width="0.6"/>
<line x1="477.46" y1="247.75" x2="477.46" y2="249.55" stroke="#5aa6f2" stroke-width="0.6"/>
<line x1="476.36" y1="247.75" x2="478.56" y2="247.75" stroke="#5aa6f2" stroke-width="0.6"/>
<line x1="476.36" y1="249.55" x2="478.56" y2="249.55" stroke="#5aa6f2" stroke-width="0.6"/>
<line x1="481.22" y1="246.85" x2="481.22" y2="248.65" stroke="#5aa6f2" stroke-width="0.6"/>
<line x1="480.12" y1="246.85" x2="482.32" y2="246.85" stroke="#5aa6f2" stroke-width="0.6"/>
<line x1="480.12" y1="248.65" x2="482.32" y2="248.65" stroke="#5aa6f2" stroke-width="0.6"/>
<line x1="484.98" y1="245.5" x2="484.98" y2="247.3" stroke="#5aa6f2" stroke-width="0.6"/>
<line x1="483.88" y1="245.5" x2="486.08" y2="245.5" stroke="#5aa6f2" stroke-width="0.6"/>
<line x1="483.88" y1="247.3" x2="486.08" y2="247.3" stroke="#5aa6f2" stroke-width="0.6"/>
<line x1="488.74" y1="245.05" x2="488.74" y2="246.85" stroke="#5aa6f2" stroke-width="0.6"/>
<line x1="487.64" y1="245.05" x2="489.84" y2="245.05" stroke="#5aa6f2" stroke-width="0.6"/>
<line x1="487.64" y1="246.85" x2="489.84" y2="246.85" stroke="#5aa6f2" stroke-width="0.6"/>
<line x1="492.51" y1="244.15" x2="492.51" y2="245.95" stroke="#5aa6f2" stroke-width="0.6"/>
<line x1="491.41" y1="244.15" x2="493.61" y2="244.15" stroke="#5aa6f2" stroke-width="0.6"/>
<line x1="491.41" y1="245.95" x2="493.61" y2="245.95" stroke="#5aa6f2" stroke-width="0.6"/>
<line x1="496.27" y1="243.7" x2="496.27" y2="245.5" stroke="#5aa6f2" stroke-width="0.6"/>
<line x1="495.17" y1="243.7" x2="497.37" y2="243.7" stroke="#5aa6f2" stroke-width="0.6"/>
<line x1="495.17" y1="245.5" x2="497.37" y2="245.5" stroke="#5aa6f2" stroke-width="0.6"/>
<line x1="500.03" y1="219.85" x2="500.03" y2="224.35" stroke="#5aa6f2" stroke-width="0.6"/>
<line x1="498.93" y1="219.85" x2="501.13" y2="219.85" stroke="#5aa6f2" stroke-width="0.6"/>
<line x1="498.93" y1="224.35" x2="501.13" y2="224.35" stroke="#5aa6f2" stroke-width="0.6"/>
<line x1="503.79" y1="222.55" x2="503.79" y2="226.15" stroke="#5aa6f2" stroke-width="0.6"/>
<line x1="502.69" y1="222.55" x2="504.89" y2="222.55" stroke="#5aa6f2" stroke-width="0.6"/>
<line x1="502.69" y1="226.15" x2="504.89" y2="226.15" stroke="#5aa6f2" stroke-width="0.6"/>
<line x1="507.56" y1="224.8" x2="507.56" y2="228.4" stroke="#5aa6f2" stroke-width="0.6"/>
<line x1="506.46" y1="224.8" x2="508.66" y2="224.8" stroke="#5aa6f2" stroke-width="0.6"/>
<line x1="506.46" y1="228.4" x2="508.66" y2="228.4" stroke="#5aa6f2" stroke-width="0.6"/>
<line x1="511.32" y1="225.25" x2="511.32" y2="228.85" stroke="#5aa6f2" stroke-width="0.6"/>
<line x1="510.22" y1="225.25" x2="512.42" y2="225.25" stroke="#5aa6f2" stroke-width="0.6"/>
<line x1="510.22" y1="228.85" x2="512.42" y2="228.85" stroke="#5aa6f2" stroke-width="0.6"/>
<line x1="515.08" y1="221.2" x2="515.08" y2="225.7" stroke="#5aa6f2" stroke-width="0.6"/>
<line x1="513.98" y1="221.2" x2="516.18" y2="221.2" stroke="#5aa6f2" stroke-width="0.6"/>
<line x1="513.98" y1="225.7" x2="516.18" y2="225.7" stroke="#5aa6f2" stroke-width="0.6"/>
<line x1="518.84" y1="216.7" x2="518.84" y2="221.2" stroke="#5aa6f2" stroke-width="0.6"/>
<line x1="517.74" y1="216.7" x2="519.94" y2="216.7" stroke="#5aa6f2" stroke-width="0.6"/>
<line x1="517.74" y1="221.2" x2="519.94" y2="221.2" stroke="#5aa6f2" stroke-width="0.6"/>
<line x1="522.61" y1="212.65" x2="522.61" y2="217.15" stroke="#5aa6f2" stroke-width="0.6"/>
<line x1="521.51" y1="212.65" x2="523.71" y2="212.65" stroke="#5aa6f2" stroke-width="0.6"/>
<line x1="521.51" y1="217.15" x2="523.71" y2="217.15" stroke="#5aa6f2" stroke-width="0.6"/>
<line x1="526.37" y1="218.05" x2="526.37" y2="222.55" stroke="#5aa6f2" stroke-width="0.6"/>
<line x1="525.27" y1="218.05" x2="527.47" y2="218.05" stroke="#5aa6f2" stroke-width="0.6"/>
<line x1="525.27" y1="222.55" x2="527.47" y2="222.55" stroke="#5aa6f2" stroke-width="0.6"/>
<line x1="530.13" y1="223.9" x2="530.13" y2="227.5" stroke="#5aa6f2" stroke-width="0.6"/>
<line x1="529.03" y1="223.9" x2="531.23" y2="223.9" stroke="#5aa6f2" stroke-width="0.6"/>
<line x1="529.03" y1="227.5" x2="531.23" y2="227.5" stroke="#5aa6f2" stroke-width="0.6"/>
<line x1="533.89" y1="232" x2="533.89" y2="236.5" stroke="#5aa6f2" stroke-width="0.6"/>
<line x1="532.79" y1="232" x2="534.99" y2="232" stroke="#5aa6f2" stroke-width="0.6"/>
<line x1="532.79" y1="236.5" x2="534.99" y2="236.5" stroke="#5aa6f2" stroke-width="0.6"/>
<line x1="537.66" y1="236.05" x2="537.66" y2="240.55" stroke="#5aa6f2" stroke-width="0.6"/>
<line x1="536.56" y1="236.05" x2="538.76" y2="236.05" stroke="#5aa6f2" stroke-width="0.6"/>
<line x1="536.56" y1="240.55" x2="538.76" y2="240.55" stroke="#5aa6f2" stroke-width="0.6"/>
<line x1="541.42" y1="224.8" x2="541.42" y2="229.3" stroke="#5aa6f2" stroke-width="0.6"/>
<line x1="540.32" y1="224.8" x2="542.52" y2="224.8" stroke="#5aa6f2" stroke-width="0.6"/>
<line x1="540.32" y1="229.3" x2="542.52" y2="229.3" stroke="#5aa6f2" stroke-width="0.6"/>
<polyline points="454.88,232 458.64,236.95 462.41,236.95 466.17,241.45 469.93,245.5 473.69,245.95 477.46,248.65 481.22,247.75 484.98,246.4 488.74,245.95 492.51,245.05 496.27,244.6 500.03,222.1 503.79,224.35 507.56,226.6 511.32,227.05 515.08,223.45 518.84,218.95 522.61,214.9 526.37,220.3 530.13,225.7 533.89,234.25 537.66,238.3 541.42,227.05" fill="none" stroke="#5aa6f2" stroke-width="0.7"/>
<circle cx="454.88" cy="232" r="2.0" fill="#5aa6f2"/>
<circle cx="458.64" cy="236.95" r="2.0" fill="#5aa6f2"/>
<circle cx="462.41" cy="236.95" r="2.0" fill="#5aa6f2"/>
<circle cx="466.17" cy="241.45" r="2.0" fill="#5aa6f2"/>
<circle cx="469.93" cy="245.5" r="2.0" fill="#5aa6f2"/>
<circle cx="473.69" cy="245.95" r="2.0" fill="#5aa6f2"/>
<circle cx="477.46" cy="248.65" r="2.0" fill="#5aa6f2"/>
<circle cx="481.22" cy="247.75" r="2.0" fill="#5aa6f2"/>
<circle cx="484.98" cy="246.4" r="2.0" fill="#5aa6f2"/>
<circle cx="488.74" cy="245.95" r="2.0" fill="#5aa6f2"/>
<circle cx="492.51" cy="245.05" r="2.0" fill="#5aa6f2"/>
<circle cx="496.27" cy="244.6" r="2.0" fill="#5aa6f2"/>
<circle cx="500.03" cy="222.1" r="2.0" fill="#5aa6f2"/>
<circle cx="503.79" cy="224.35" r="2.0" fill="#5aa6f2"/>
<circle cx="507.56" cy="226.6" r="2.0" fill="#5aa6f2"/>
<circle cx="511.32" cy="227.05" r="2.0" fill="#5aa6f2"/>
<circle cx="515.08" cy="223.45" r="2.0" fill="#5aa6f2"/>
<circle cx="518.84" cy="218.95" r="2.0" fill="#5aa6f2"/>
<circle cx="522.61" cy="214.9" r="2.0" fill="#5aa6f2"/>
<circle cx="526.37" cy="220.3" r="2.0" fill="#5aa6f2"/>
<circle cx="530.13" cy="225.7" r="2.0" fill="#5aa6f2"/>
<circle cx="533.89" cy="234.25" r="2.0" fill="#5aa6f2"/>
<circle cx="537.66" cy="238.3" r="2.0" fill="#5aa6f2"/>
<circle cx="541.42" cy="227.05" r="2.0" fill="#5aa6f2"/>
<polyline points="454.88,245.5 458.64,245.5 462.41,245.05 466.17,243.25 469.93,242.8 473.69,244.15 477.46,245.5 481.22,245.05 484.98,245.05 488.74,243.7 492.51,241.45 496.27,245.5 500.03,231.1 503.79,233.8 507.56,236.05 511.32,236.95 515.08,236.5 518.84,236.5 522.61,237.4 526.37,239.2 530.13,242.8 533.89,245.05 537.66,243.7 541.42,236.5" fill="none" stroke="#000000" stroke-width="0.7"/>
<circle cx="454.88" cy="245.5" r="2.0" fill="#000000"/>
<circle cx="458.64" cy="245.5" r="2.0" fill="#000000"/>
<circle cx="462.41" cy="245.05" r="2.0" fill="#000000"/>
<circle cx="466.17" cy="243.25" r="2.0" fill="#000000"/>
<circle cx="469.93" cy="242.8" r="2.0" fill="#000000"/>
<circle cx="473.69" cy="244.15" r="2.0" fill="#000000"/>
<circle cx="477.46" cy="245.5" r="2.0" fill="#000000"/>
<circle cx="481.22" cy="245.05" r="2.0" fill="#000000"/>
<circle cx="484.98" cy="245.05" r="2.0" fill="#000000"/>
<circle cx="488.74" cy="243.7" r="2.0" fill="#000000"/>
<circle cx="492.51" cy="241.45" r="2.0" fill="#000000"/>
<circle cx="496.27" cy="245.5" r="2.0" fill="#000000"/>
<circle cx="500.03" cy="231.1" r="2.0" fill="#000000"/>
<circle cx="503.79" cy="233.8" r="2.0" fill="#000000"/>
<circle cx="507.56" cy="236.05" r="2.0" fill="#000000"/>
<circle cx="511.32" cy="236.95" r="2.0" fill="#000000"/>
<circle cx="515.08" cy="236.5" r="2.0" fill="#000000"/>
<circle cx="518.84" cy="236.5" r="2.0" fill="#000000"/>
<circle cx="522.61" cy="237.4" r="2.0" fill="#000000"/>
<circle cx="526.37" cy="239.2" r="2.0" fill="#000000"/>
<circle cx="530.13" cy="242.8" r="2.0" fill="#000000"/>
<circle cx="533.89" cy="245.05" r="2.0" fill="#000000"/>
<circle cx="537.66" cy="243.7" r="2.0" fill="#000000"/>
<circle cx="541.42" cy="236.5" r="2.0" fill="#000000"/>
<path d="M453.6,198.6 V195.4 H461 V198.6" fill="none" stroke="#f07a7a" stroke-width="0.8"/>
<path d="M494.6,198.6 V195.4 H532.4 V198.6" fill="none" stroke="#f07a7a" stroke-width="0.8"/>
<path d="M539.4,198.6 V195.4 H543.4 V198.6" fill="none" stroke="#f07a7a" stroke-width="0.8"/>
<path d="M497.4,191.6 V188 H521.4 V191.6" fill="none" stroke="#b77ee6" stroke-width="0.8"/>
<path d="M453,251.6 V254 H464 V251.6" fill="none" stroke="#8dbbf0" stroke-width="0.8"/>
<path d="M501.4,251.6 V254 H505.4 V251.6" fill="none" stroke="#8dbbf0" stroke-width="0.8"/>
<path d="M509.4,251.6 V254 H536 V251.6" fill="none" stroke="#8dbbf0" stroke-width="0.8"/></svg></body></html>
